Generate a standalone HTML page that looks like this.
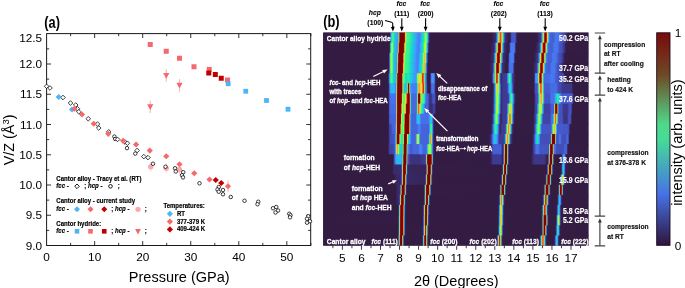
<!DOCTYPE html>
<html><head><meta charset="utf-8"><title>fig</title>
<style>html,body{margin:0;padding:0;background:#fff}svg{display:block}text{font-family:"Liberation Sans",sans-serif}</style>
</head><body>
<svg width="685" height="288" viewBox="0 0 685 288">
<defs><linearGradient id="r0" gradientUnits="userSpaceOnUse" x1="323.2" x2="588.4" y1="0" y2="0"><stop offset="0.0000" stop-color="#331b41"/><stop offset="0.2508" stop-color="#331b41"/><stop offset="0.2526" stop-color="#3a2e74"/><stop offset="0.2545" stop-color="#4773eb"/><stop offset="0.2564" stop-color="#25c0e7"/><stop offset="0.2583" stop-color="#1ae4b6"/><stop offset="0.2602" stop-color="#32f298"/><stop offset="0.2621" stop-color="#43f787"/><stop offset="0.2640" stop-color="#3cf58e"/><stop offset="0.2658" stop-color="#25eca7"/><stop offset="0.2677" stop-color="#18ddc2"/><stop offset="0.2696" stop-color="#1ecbda"/><stop offset="0.2715" stop-color="#27bee9"/><stop offset="0.2809" stop-color="#3ba0fd"/><stop offset="0.2828" stop-color="#4196ff"/><stop offset="0.2847" stop-color="#59fb73"/><stop offset="0.2866" stop-color="#fd8d27"/><stop offset="0.2885" stop-color="#950d01"/><stop offset="0.2903" stop-color="#7a0403"/><stop offset="0.3054" stop-color="#7a0403"/><stop offset="0.3073" stop-color="#a11201"/><stop offset="0.3092" stop-color="#fea431"/><stop offset="0.3111" stop-color="#cdec34"/><stop offset="0.3130" stop-color="#8fff49"/><stop offset="0.3149" stop-color="#59fb73"/><stop offset="0.3167" stop-color="#43f787"/><stop offset="0.3224" stop-color="#38f491"/><stop offset="0.3281" stop-color="#2ff19b"/><stop offset="0.3318" stop-color="#1ce6b4"/><stop offset="0.3375" stop-color="#1ad4d0"/><stop offset="0.3488" stop-color="#37a8fa"/><stop offset="0.3563" stop-color="#458afc"/><stop offset="0.3620" stop-color="#4680f6"/><stop offset="0.3639" stop-color="#4680f6"/><stop offset="0.3676" stop-color="#3e9bfe"/><stop offset="0.3714" stop-color="#23c3e4"/><stop offset="0.3752" stop-color="#18d7ca"/><stop offset="0.3790" stop-color="#1de7b2"/><stop offset="0.3808" stop-color="#2ff19b"/><stop offset="0.3846" stop-color="#75fe5c"/><stop offset="0.3865" stop-color="#88ff4e"/><stop offset="0.3884" stop-color="#84ff51"/><stop offset="0.3903" stop-color="#61fc6c"/><stop offset="0.3922" stop-color="#1fe9af"/><stop offset="0.3940" stop-color="#2cb7f0"/><stop offset="0.3959" stop-color="#4680f6"/><stop offset="0.3978" stop-color="#4451bf"/><stop offset="0.3997" stop-color="#3a2f75"/><stop offset="0.4016" stop-color="#341f4b"/><stop offset="0.4035" stop-color="#331b41"/><stop offset="0.6354" stop-color="#331c42"/><stop offset="0.6448" stop-color="#372761"/><stop offset="0.6505" stop-color="#3a2f76"/><stop offset="0.6523" stop-color="#4040a2"/><stop offset="0.6542" stop-color="#4661d6"/><stop offset="0.6561" stop-color="#448ffe"/><stop offset="0.6580" stop-color="#1fc9dd"/><stop offset="0.6599" stop-color="#3ff68a"/><stop offset="0.6618" stop-color="#b4f836"/><stop offset="0.6637" stop-color="#f6c33a"/><stop offset="0.6655" stop-color="#fb7e21"/><stop offset="0.6674" stop-color="#ec530f"/><stop offset="0.6693" stop-color="#eb500e"/><stop offset="0.6712" stop-color="#f8721c"/><stop offset="0.6731" stop-color="#fbb838"/><stop offset="0.6750" stop-color="#c3f134"/><stop offset="0.6768" stop-color="#59fb73"/><stop offset="0.6787" stop-color="#19d5cd"/><stop offset="0.6806" stop-color="#4099ff"/><stop offset="0.6825" stop-color="#4669e0"/><stop offset="0.6844" stop-color="#4146ac"/><stop offset="0.6863" stop-color="#3b317c"/><stop offset="0.6995" stop-color="#341d47"/><stop offset="0.7032" stop-color="#341d47"/><stop offset="0.7051" stop-color="#362356"/><stop offset="0.7070" stop-color="#3a2f77"/><stop offset="0.7089" stop-color="#4143a7"/><stop offset="0.7108" stop-color="#4456c7"/><stop offset="0.7221" stop-color="#4559cb"/><stop offset="0.7240" stop-color="#4456c7"/><stop offset="0.7259" stop-color="#4146ac"/><stop offset="0.7296" stop-color="#36255b"/><stop offset="0.7315" stop-color="#341e49"/><stop offset="0.7372" stop-color="#331b41"/><stop offset="0.8051" stop-color="#331c43"/><stop offset="0.8126" stop-color="#382863"/><stop offset="0.8183" stop-color="#3c3483"/><stop offset="0.8201" stop-color="#3d378c"/><stop offset="0.8220" stop-color="#424bb5"/><stop offset="0.8239" stop-color="#4776ee"/><stop offset="0.8258" stop-color="#33adf7"/><stop offset="0.8277" stop-color="#20eaac"/><stop offset="0.8296" stop-color="#a1fd3d"/><stop offset="0.8314" stop-color="#f9bc39"/><stop offset="0.8333" stop-color="#e84b0c"/><stop offset="0.8352" stop-color="#a11201"/><stop offset="0.8371" stop-color="#7a0403"/><stop offset="0.8390" stop-color="#7a0403"/><stop offset="0.8409" stop-color="#920b01"/><stop offset="0.8428" stop-color="#dc3b07"/><stop offset="0.8446" stop-color="#fea732"/><stop offset="0.8465" stop-color="#b9f635"/><stop offset="0.8484" stop-color="#32f298"/><stop offset="0.8503" stop-color="#28bceb"/><stop offset="0.8522" stop-color="#467df4"/><stop offset="0.8541" stop-color="#4669e0"/><stop offset="0.8616" stop-color="#455ed3"/><stop offset="0.8692" stop-color="#455ed3"/><stop offset="0.8748" stop-color="#4776ee"/><stop offset="0.8880" stop-color="#4778f0"/><stop offset="0.8937" stop-color="#4661d6"/><stop offset="0.8974" stop-color="#4456c7"/><stop offset="0.9050" stop-color="#434eba"/><stop offset="0.9087" stop-color="#4146ac"/><stop offset="0.9163" stop-color="#3a2d72"/><stop offset="0.9201" stop-color="#35204e"/><stop offset="0.9238" stop-color="#331b41"/><stop offset="0.9992" stop-color="#331b41"/></linearGradient>
<linearGradient id="r1" gradientUnits="userSpaceOnUse" x1="323.2" x2="588.4" y1="0" y2="0"><stop offset="0.0000" stop-color="#331b41"/><stop offset="0.2489" stop-color="#331b41"/><stop offset="0.2508" stop-color="#3a2e74"/><stop offset="0.2526" stop-color="#4776ee"/><stop offset="0.2545" stop-color="#1bd0d5"/><stop offset="0.2564" stop-color="#4ef97d"/><stop offset="0.2583" stop-color="#8fff49"/><stop offset="0.2602" stop-color="#9ffd3f"/><stop offset="0.2621" stop-color="#8fff49"/><stop offset="0.2640" stop-color="#46f884"/><stop offset="0.2658" stop-color="#19e2bb"/><stop offset="0.2677" stop-color="#1ecbda"/><stop offset="0.2696" stop-color="#27bee9"/><stop offset="0.2790" stop-color="#3d9efe"/><stop offset="0.2809" stop-color="#37a8fa"/><stop offset="0.2828" stop-color="#96fe44"/><stop offset="0.2847" stop-color="#f26014"/><stop offset="0.2866" stop-color="#850702"/><stop offset="0.2885" stop-color="#7a0403"/><stop offset="0.3035" stop-color="#7e0502"/><stop offset="0.3054" stop-color="#ea4e0d"/><stop offset="0.3073" stop-color="#e5d938"/><stop offset="0.3092" stop-color="#a9fb39"/><stop offset="0.3111" stop-color="#6dfe62"/><stop offset="0.3130" stop-color="#46f884"/><stop offset="0.3149" stop-color="#3cf58e"/><stop offset="0.3243" stop-color="#32f298"/><stop offset="0.3299" stop-color="#19e3b9"/><stop offset="0.3375" stop-color="#1ecbda"/><stop offset="0.3450" stop-color="#33adf7"/><stop offset="0.3526" stop-color="#448ffe"/><stop offset="0.3582" stop-color="#4680f6"/><stop offset="0.3620" stop-color="#4682f8"/><stop offset="0.3639" stop-color="#458cfd"/><stop offset="0.3658" stop-color="#3ba0fd"/><stop offset="0.3695" stop-color="#20c7df"/><stop offset="0.3752" stop-color="#18e0bd"/><stop offset="0.3771" stop-color="#1fe9af"/><stop offset="0.3790" stop-color="#38f491"/><stop offset="0.3808" stop-color="#75fe5c"/><stop offset="0.3827" stop-color="#acfb38"/><stop offset="0.3846" stop-color="#c1f334"/><stop offset="0.3865" stop-color="#b9f635"/><stop offset="0.3884" stop-color="#84ff51"/><stop offset="0.3903" stop-color="#1de7b2"/><stop offset="0.3922" stop-color="#33adf7"/><stop offset="0.3940" stop-color="#4776ee"/><stop offset="0.3959" stop-color="#4249b1"/><stop offset="0.3978" stop-color="#382967"/><stop offset="0.3997" stop-color="#341d46"/><stop offset="0.4110" stop-color="#331b41"/><stop offset="0.6316" stop-color="#331c43"/><stop offset="0.6410" stop-color="#382863"/><stop offset="0.6448" stop-color="#392d70"/><stop offset="0.6467" stop-color="#3e398f"/><stop offset="0.6486" stop-color="#4456c7"/><stop offset="0.6505" stop-color="#4685fa"/><stop offset="0.6523" stop-color="#22c5e2"/><stop offset="0.6542" stop-color="#46f884"/><stop offset="0.6561" stop-color="#cdec34"/><stop offset="0.6580" stop-color="#fd8a26"/><stop offset="0.6599" stop-color="#c32503"/><stop offset="0.6618" stop-color="#7a0403"/><stop offset="0.6674" stop-color="#7a0403"/><stop offset="0.6693" stop-color="#d43305"/><stop offset="0.6712" stop-color="#fea431"/><stop offset="0.6731" stop-color="#b7f735"/><stop offset="0.6750" stop-color="#2ff19b"/><stop offset="0.6768" stop-color="#2cb7f0"/><stop offset="0.6787" stop-color="#477bf2"/><stop offset="0.6806" stop-color="#434eba"/><stop offset="0.6825" stop-color="#3c3586"/><stop offset="0.6844" stop-color="#392c6f"/><stop offset="0.6957" stop-color="#341d46"/><stop offset="0.6995" stop-color="#341d46"/><stop offset="0.7014" stop-color="#362459"/><stop offset="0.7032" stop-color="#3d378b"/><stop offset="0.7051" stop-color="#455ccf"/><stop offset="0.7070" stop-color="#4778f0"/><stop offset="0.7202" stop-color="#477bf2"/><stop offset="0.7221" stop-color="#4669e0"/><stop offset="0.7240" stop-color="#4143a7"/><stop offset="0.7259" stop-color="#382a68"/><stop offset="0.7278" stop-color="#341f4b"/><stop offset="0.7315" stop-color="#331b41"/><stop offset="0.7994" stop-color="#331b42"/><stop offset="0.8069" stop-color="#372761"/><stop offset="0.8126" stop-color="#3c3382"/><stop offset="0.8145" stop-color="#3d378a"/><stop offset="0.8164" stop-color="#4146ac"/><stop offset="0.8183" stop-color="#476ee6"/><stop offset="0.8201" stop-color="#3aa3fc"/><stop offset="0.8220" stop-color="#19e3b9"/><stop offset="0.8239" stop-color="#92ff47"/><stop offset="0.8258" stop-color="#f4c73a"/><stop offset="0.8277" stop-color="#ed5510"/><stop offset="0.8296" stop-color="#a41301"/><stop offset="0.8314" stop-color="#7a0403"/><stop offset="0.8352" stop-color="#7a0403"/><stop offset="0.8371" stop-color="#c52603"/><stop offset="0.8390" stop-color="#fc8423"/><stop offset="0.8409" stop-color="#d4e735"/><stop offset="0.8428" stop-color="#55fa76"/><stop offset="0.8446" stop-color="#1ecbda"/><stop offset="0.8465" stop-color="#458cfd"/><stop offset="0.8484" stop-color="#4669e0"/><stop offset="0.8578" stop-color="#455ed3"/><stop offset="0.8654" stop-color="#4661d6"/><stop offset="0.8692" stop-color="#4773eb"/><stop offset="0.8767" stop-color="#4778f0"/><stop offset="0.8842" stop-color="#4776ee"/><stop offset="0.8899" stop-color="#4559cb"/><stop offset="0.9012" stop-color="#424bb5"/><stop offset="0.9087" stop-color="#3c3587"/><stop offset="0.9144" stop-color="#352151"/><stop offset="0.9163" stop-color="#341c45"/><stop offset="0.9992" stop-color="#331b41"/></linearGradient>
<linearGradient id="r2" gradientUnits="userSpaceOnUse" x1="323.2" x2="588.4" y1="0" y2="0"><stop offset="0.0000" stop-color="#331b41"/><stop offset="0.2470" stop-color="#331b41"/><stop offset="0.2489" stop-color="#3c3381"/><stop offset="0.2508" stop-color="#4685fa"/><stop offset="0.2526" stop-color="#18e0bd"/><stop offset="0.2545" stop-color="#71fe5f"/><stop offset="0.2564" stop-color="#a4fc3c"/><stop offset="0.2583" stop-color="#acfb38"/><stop offset="0.2602" stop-color="#8bff4b"/><stop offset="0.2621" stop-color="#3cf58e"/><stop offset="0.2640" stop-color="#18ddc2"/><stop offset="0.2658" stop-color="#1fc9dd"/><stop offset="0.2677" stop-color="#28bceb"/><stop offset="0.2771" stop-color="#4099ff"/><stop offset="0.2790" stop-color="#23c3e4"/><stop offset="0.2809" stop-color="#bef434"/><stop offset="0.2828" stop-color="#df3f08"/><stop offset="0.2847" stop-color="#7a0403"/><stop offset="0.2998" stop-color="#7a0403"/><stop offset="0.3017" stop-color="#b91e02"/><stop offset="0.3035" stop-color="#f7c13a"/><stop offset="0.3054" stop-color="#c1f334"/><stop offset="0.3073" stop-color="#84ff51"/><stop offset="0.3092" stop-color="#52fa7a"/><stop offset="0.3111" stop-color="#3ff68a"/><stop offset="0.3224" stop-color="#32f298"/><stop offset="0.3262" stop-color="#1de7b2"/><stop offset="0.3318" stop-color="#19d5cd"/><stop offset="0.3413" stop-color="#2fb2f4"/><stop offset="0.3488" stop-color="#4294ff"/><stop offset="0.3544" stop-color="#4682f8"/><stop offset="0.3582" stop-color="#4680f6"/><stop offset="0.3601" stop-color="#4687fb"/><stop offset="0.3620" stop-color="#4099ff"/><stop offset="0.3639" stop-color="#33adf7"/><stop offset="0.3676" stop-color="#1ccdd8"/><stop offset="0.3733" stop-color="#1ae4b6"/><stop offset="0.3752" stop-color="#2aefa1"/><stop offset="0.3771" stop-color="#69fd66"/><stop offset="0.3790" stop-color="#c8ef34"/><stop offset="0.3808" stop-color="#f7c13a"/><stop offset="0.3827" stop-color="#fcb136"/><stop offset="0.3846" stop-color="#ebd339"/><stop offset="0.3865" stop-color="#7dff56"/><stop offset="0.3884" stop-color="#1ccdd8"/><stop offset="0.3903" stop-color="#458afc"/><stop offset="0.3922" stop-color="#455ccf"/><stop offset="0.3940" stop-color="#3c3484"/><stop offset="0.3959" stop-color="#35204f"/><stop offset="0.3978" stop-color="#331b41"/><stop offset="0.6278" stop-color="#331c43"/><stop offset="0.6373" stop-color="#382863"/><stop offset="0.6410" stop-color="#392d70"/><stop offset="0.6429" stop-color="#3e398f"/><stop offset="0.6448" stop-color="#4456c7"/><stop offset="0.6467" stop-color="#4685fa"/><stop offset="0.6486" stop-color="#22c5e2"/><stop offset="0.6505" stop-color="#46f884"/><stop offset="0.6523" stop-color="#cdec34"/><stop offset="0.6542" stop-color="#fd8a26"/><stop offset="0.6561" stop-color="#c32503"/><stop offset="0.6580" stop-color="#7a0403"/><stop offset="0.6637" stop-color="#7a0403"/><stop offset="0.6655" stop-color="#d43305"/><stop offset="0.6674" stop-color="#fea431"/><stop offset="0.6693" stop-color="#b7f735"/><stop offset="0.6712" stop-color="#2ff19b"/><stop offset="0.6731" stop-color="#2cb7f0"/><stop offset="0.6750" stop-color="#477bf2"/><stop offset="0.6768" stop-color="#434eba"/><stop offset="0.6787" stop-color="#3c3586"/><stop offset="0.6806" stop-color="#392c6f"/><stop offset="0.6919" stop-color="#341d46"/><stop offset="0.6957" stop-color="#341c45"/><stop offset="0.6976" stop-color="#362254"/><stop offset="0.6995" stop-color="#3c3482"/><stop offset="0.7014" stop-color="#4456c7"/><stop offset="0.7032" stop-color="#477bf2"/><stop offset="0.7108" stop-color="#4680f6"/><stop offset="0.7164" stop-color="#4680f6"/><stop offset="0.7183" stop-color="#476ee6"/><stop offset="0.7202" stop-color="#4146ac"/><stop offset="0.7221" stop-color="#392b6b"/><stop offset="0.7240" stop-color="#341f4c"/><stop offset="0.7278" stop-color="#331b41"/><stop offset="0.7937" stop-color="#331b41"/><stop offset="0.8013" stop-color="#37265f"/><stop offset="0.8051" stop-color="#3b3079"/><stop offset="0.8088" stop-color="#3d3688"/><stop offset="0.8107" stop-color="#4040a2"/><stop offset="0.8126" stop-color="#4664da"/><stop offset="0.8145" stop-color="#4196ff"/><stop offset="0.8164" stop-color="#18d9c8"/><stop offset="0.8183" stop-color="#75fe5c"/><stop offset="0.8201" stop-color="#e5d938"/><stop offset="0.8220" stop-color="#f66c19"/><stop offset="0.8239" stop-color="#b41b01"/><stop offset="0.8258" stop-color="#7a0403"/><stop offset="0.8296" stop-color="#7a0403"/><stop offset="0.8314" stop-color="#b41b01"/><stop offset="0.8333" stop-color="#f66c19"/><stop offset="0.8352" stop-color="#e5d938"/><stop offset="0.8371" stop-color="#75fe5c"/><stop offset="0.8390" stop-color="#18d9c8"/><stop offset="0.8409" stop-color="#4196ff"/><stop offset="0.8428" stop-color="#4669e0"/><stop offset="0.8522" stop-color="#455ed3"/><stop offset="0.8597" stop-color="#4661d6"/><stop offset="0.8654" stop-color="#4778f0"/><stop offset="0.8786" stop-color="#4776ee"/><stop offset="0.8861" stop-color="#4456c7"/><stop offset="0.8956" stop-color="#424bb5"/><stop offset="0.9031" stop-color="#3d378a"/><stop offset="0.9106" stop-color="#341d46"/><stop offset="0.9219" stop-color="#331b41"/><stop offset="0.9992" stop-color="#331b41"/></linearGradient>
<linearGradient id="r3" gradientUnits="userSpaceOnUse" x1="323.2" x2="588.4" y1="0" y2="0"><stop offset="0.0000" stop-color="#331b41"/><stop offset="0.2470" stop-color="#331b41"/><stop offset="0.2489" stop-color="#3c3381"/><stop offset="0.2508" stop-color="#4685fa"/><stop offset="0.2526" stop-color="#18e0bd"/><stop offset="0.2545" stop-color="#71fe5f"/><stop offset="0.2564" stop-color="#a4fc3c"/><stop offset="0.2583" stop-color="#acfb38"/><stop offset="0.2602" stop-color="#8bff4b"/><stop offset="0.2621" stop-color="#3cf58e"/><stop offset="0.2640" stop-color="#18ddc2"/><stop offset="0.2658" stop-color="#20c7df"/><stop offset="0.2696" stop-color="#2eb4f2"/><stop offset="0.2771" stop-color="#4099ff"/><stop offset="0.2790" stop-color="#3ff68a"/><stop offset="0.2809" stop-color="#fea431"/><stop offset="0.2828" stop-color="#a11201"/><stop offset="0.2847" stop-color="#7a0403"/><stop offset="0.2979" stop-color="#7a0403"/><stop offset="0.2998" stop-color="#950d01"/><stop offset="0.3017" stop-color="#fd8d27"/><stop offset="0.3035" stop-color="#d4e735"/><stop offset="0.3054" stop-color="#96fe44"/><stop offset="0.3073" stop-color="#5dfc6f"/><stop offset="0.3092" stop-color="#43f787"/><stop offset="0.3149" stop-color="#38f491"/><stop offset="0.3205" stop-color="#32f298"/><stop offset="0.3262" stop-color="#19e3b9"/><stop offset="0.3337" stop-color="#1ecbda"/><stop offset="0.3413" stop-color="#33adf7"/><stop offset="0.3488" stop-color="#448ffe"/><stop offset="0.3544" stop-color="#4680f6"/><stop offset="0.3582" stop-color="#4687fb"/><stop offset="0.3601" stop-color="#4099ff"/><stop offset="0.3620" stop-color="#33adf7"/><stop offset="0.3658" stop-color="#1ccdd8"/><stop offset="0.3714" stop-color="#1ae4b6"/><stop offset="0.3733" stop-color="#2aefa1"/><stop offset="0.3752" stop-color="#6dfe62"/><stop offset="0.3771" stop-color="#d7e535"/><stop offset="0.3790" stop-color="#fdac34"/><stop offset="0.3808" stop-color="#fe962b"/><stop offset="0.3827" stop-color="#f7c13a"/><stop offset="0.3846" stop-color="#8fff49"/><stop offset="0.3865" stop-color="#1bd0d5"/><stop offset="0.3884" stop-color="#458afc"/><stop offset="0.3903" stop-color="#455ccf"/><stop offset="0.3922" stop-color="#3c3484"/><stop offset="0.3940" stop-color="#35204f"/><stop offset="0.3959" stop-color="#331b41"/><stop offset="0.6241" stop-color="#331b42"/><stop offset="0.6335" stop-color="#37265f"/><stop offset="0.6373" stop-color="#392c6e"/><stop offset="0.6391" stop-color="#3b317c"/><stop offset="0.6410" stop-color="#4146ac"/><stop offset="0.6429" stop-color="#476ee6"/><stop offset="0.6448" stop-color="#38a5fb"/><stop offset="0.6467" stop-color="#1ce6b4"/><stop offset="0.6486" stop-color="#99fe42"/><stop offset="0.6505" stop-color="#f7c13a"/><stop offset="0.6523" stop-color="#e84b0c"/><stop offset="0.6542" stop-color="#950d01"/><stop offset="0.6561" stop-color="#7a0403"/><stop offset="0.6599" stop-color="#7a0403"/><stop offset="0.6618" stop-color="#bc2002"/><stop offset="0.6637" stop-color="#fa7b1f"/><stop offset="0.6655" stop-color="#dbe236"/><stop offset="0.6674" stop-color="#5dfc6f"/><stop offset="0.6693" stop-color="#1bd0d5"/><stop offset="0.6712" stop-color="#458cfd"/><stop offset="0.6731" stop-color="#455ccf"/><stop offset="0.6750" stop-color="#3f3c99"/><stop offset="0.6768" stop-color="#3a2d72"/><stop offset="0.6900" stop-color="#331c44"/><stop offset="0.6938" stop-color="#331c43"/><stop offset="0.6957" stop-color="#35204e"/><stop offset="0.6976" stop-color="#392c6f"/><stop offset="0.6995" stop-color="#4249b1"/><stop offset="0.7014" stop-color="#4669e0"/><stop offset="0.7032" stop-color="#4773eb"/><stop offset="0.7146" stop-color="#4773eb"/><stop offset="0.7164" stop-color="#455ed3"/><stop offset="0.7183" stop-color="#3e3a94"/><stop offset="0.7202" stop-color="#37265e"/><stop offset="0.7221" stop-color="#341e48"/><stop offset="0.7278" stop-color="#331b41"/><stop offset="0.7900" stop-color="#331c43"/><stop offset="0.7975" stop-color="#382863"/><stop offset="0.8032" stop-color="#3c3483"/><stop offset="0.8051" stop-color="#3d378c"/><stop offset="0.8069" stop-color="#424bb5"/><stop offset="0.8088" stop-color="#4776ee"/><stop offset="0.8107" stop-color="#2fb2f4"/><stop offset="0.8126" stop-color="#25eca7"/><stop offset="0.8145" stop-color="#a9fb39"/><stop offset="0.8164" stop-color="#fcb336"/><stop offset="0.8183" stop-color="#e2430a"/><stop offset="0.8201" stop-color="#920b01"/><stop offset="0.8220" stop-color="#7a0403"/><stop offset="0.8258" stop-color="#810602"/><stop offset="0.8277" stop-color="#d43305"/><stop offset="0.8296" stop-color="#fe9e2f"/><stop offset="0.8314" stop-color="#bef434"/><stop offset="0.8333" stop-color="#38f491"/><stop offset="0.8352" stop-color="#27bee9"/><stop offset="0.8371" stop-color="#4680f6"/><stop offset="0.8390" stop-color="#4669e0"/><stop offset="0.8465" stop-color="#455ed3"/><stop offset="0.8541" stop-color="#455ed3"/><stop offset="0.8597" stop-color="#4776ee"/><stop offset="0.8729" stop-color="#4778f0"/><stop offset="0.8786" stop-color="#4661d6"/><stop offset="0.8824" stop-color="#4456c7"/><stop offset="0.8899" stop-color="#434eba"/><stop offset="0.8937" stop-color="#4146ac"/><stop offset="0.9012" stop-color="#3a2d72"/><stop offset="0.9050" stop-color="#35204e"/><stop offset="0.9087" stop-color="#331b41"/><stop offset="0.9992" stop-color="#331b41"/></linearGradient>
<linearGradient id="r4" gradientUnits="userSpaceOnUse" x1="323.2" x2="588.4" y1="0" y2="0"><stop offset="0.0000" stop-color="#331b41"/><stop offset="0.2432" stop-color="#331b41"/><stop offset="0.2451" stop-color="#35204f"/><stop offset="0.2470" stop-color="#3e398f"/><stop offset="0.2489" stop-color="#476ee6"/><stop offset="0.2508" stop-color="#37a8fa"/><stop offset="0.2526" stop-color="#18dbc5"/><stop offset="0.2545" stop-color="#35f394"/><stop offset="0.2564" stop-color="#4ef97d"/><stop offset="0.2583" stop-color="#52fa7a"/><stop offset="0.2602" stop-color="#43f787"/><stop offset="0.2621" stop-color="#25eca7"/><stop offset="0.2640" stop-color="#18dbc5"/><stop offset="0.2658" stop-color="#1ccdd8"/><stop offset="0.2696" stop-color="#23c3e4"/><stop offset="0.2753" stop-color="#35abf8"/><stop offset="0.2771" stop-color="#52fa7a"/><stop offset="0.2790" stop-color="#f05b12"/><stop offset="0.2809" stop-color="#7a0403"/><stop offset="0.2960" stop-color="#7a0403"/><stop offset="0.2979" stop-color="#b41b01"/><stop offset="0.2998" stop-color="#d7e535"/><stop offset="0.3017" stop-color="#75fe5c"/><stop offset="0.3035" stop-color="#46f884"/><stop offset="0.3073" stop-color="#3ff68a"/><stop offset="0.3111" stop-color="#19e2bb"/><stop offset="0.3130" stop-color="#18d7ca"/><stop offset="0.3149" stop-color="#18d9c8"/><stop offset="0.3186" stop-color="#1fe9af"/><stop offset="0.3243" stop-color="#1fe9af"/><stop offset="0.3262" stop-color="#19e3b9"/><stop offset="0.3299" stop-color="#1fc9dd"/><stop offset="0.3356" stop-color="#22c5e2"/><stop offset="0.3394" stop-color="#38a5fb"/><stop offset="0.3413" stop-color="#3e9bfe"/><stop offset="0.3488" stop-color="#3e9bfe"/><stop offset="0.3507" stop-color="#3aa3fc"/><stop offset="0.3526" stop-color="#23c3e4"/><stop offset="0.3544" stop-color="#2ff19b"/><stop offset="0.3563" stop-color="#affa37"/><stop offset="0.3582" stop-color="#e7d739"/><stop offset="0.3601" stop-color="#efcd3a"/><stop offset="0.3620" stop-color="#e5d938"/><stop offset="0.3639" stop-color="#c6f034"/><stop offset="0.3658" stop-color="#a9fb39"/><stop offset="0.3676" stop-color="#a4fc3c"/><stop offset="0.3695" stop-color="#bef434"/><stop offset="0.3714" stop-color="#fbb637"/><stop offset="0.3733" stop-color="#e7490c"/><stop offset="0.3752" stop-color="#ce2d04"/><stop offset="0.3771" stop-color="#d63506"/><stop offset="0.3790" stop-color="#fb7e21"/><stop offset="0.3808" stop-color="#b9f635"/><stop offset="0.3827" stop-color="#19e2bb"/><stop offset="0.3846" stop-color="#3ba0fd"/><stop offset="0.3865" stop-color="#4680f6"/><stop offset="0.3884" stop-color="#476ee6"/><stop offset="0.3903" stop-color="#4249b1"/><stop offset="0.3922" stop-color="#37265f"/><stop offset="0.3940" stop-color="#331b41"/><stop offset="0.4016" stop-color="#331b41"/><stop offset="0.4035" stop-color="#36255a"/><stop offset="0.4054" stop-color="#4146ac"/><stop offset="0.4072" stop-color="#4771e9"/><stop offset="0.4091" stop-color="#458afc"/><stop offset="0.4129" stop-color="#3e9bfe"/><stop offset="0.4167" stop-color="#4294ff"/><stop offset="0.4186" stop-color="#4680f6"/><stop offset="0.4204" stop-color="#455ccf"/><stop offset="0.4223" stop-color="#3b317a"/><stop offset="0.4242" stop-color="#341e48"/><stop offset="0.4280" stop-color="#331b41"/><stop offset="0.6316" stop-color="#331b42"/><stop offset="0.6335" stop-color="#341d45"/><stop offset="0.6354" stop-color="#352152"/><stop offset="0.6373" stop-color="#3a2e74"/><stop offset="0.6391" stop-color="#424bb5"/><stop offset="0.6410" stop-color="#477bf2"/><stop offset="0.6429" stop-color="#37a8fa"/><stop offset="0.6448" stop-color="#28bceb"/><stop offset="0.6467" stop-color="#20eaac"/><stop offset="0.6486" stop-color="#acfb38"/><stop offset="0.6505" stop-color="#fcb336"/><stop offset="0.6523" stop-color="#ea4e0d"/><stop offset="0.6542" stop-color="#c82803"/><stop offset="0.6561" stop-color="#cc2b04"/><stop offset="0.6580" stop-color="#f15d13"/><stop offset="0.6599" stop-color="#f5c53a"/><stop offset="0.6618" stop-color="#92ff47"/><stop offset="0.6637" stop-color="#18dec0"/><stop offset="0.6655" stop-color="#4196ff"/><stop offset="0.6674" stop-color="#455ed3"/><stop offset="0.6693" stop-color="#3e3a93"/><stop offset="0.6712" stop-color="#382966"/><stop offset="0.6731" stop-color="#382965"/><stop offset="0.6768" stop-color="#3e3991"/><stop offset="0.6900" stop-color="#3e3b95"/><stop offset="0.6919" stop-color="#3f3e9c"/><stop offset="0.6938" stop-color="#4661d6"/><stop offset="0.6957" stop-color="#458cfd"/><stop offset="0.6976" stop-color="#25c0e7"/><stop offset="0.6995" stop-color="#1ae4b6"/><stop offset="0.7014" stop-color="#38f491"/><stop offset="0.7032" stop-color="#46f884"/><stop offset="0.7051" stop-color="#2cf09e"/><stop offset="0.7070" stop-color="#18d9c8"/><stop offset="0.7089" stop-color="#35abf8"/><stop offset="0.7108" stop-color="#477bf2"/><stop offset="0.7127" stop-color="#4451bf"/><stop offset="0.7146" stop-color="#3e3b95"/><stop offset="0.7164" stop-color="#3e3a93"/><stop offset="0.7183" stop-color="#3c3482"/><stop offset="0.7221" stop-color="#362255"/><stop offset="0.7259" stop-color="#331c43"/><stop offset="0.7937" stop-color="#331b42"/><stop offset="0.7956" stop-color="#36245a"/><stop offset="0.7975" stop-color="#4040a2"/><stop offset="0.7994" stop-color="#476ee6"/><stop offset="0.8013" stop-color="#4391fe"/><stop offset="0.8032" stop-color="#3d9efe"/><stop offset="0.8051" stop-color="#4099ff"/><stop offset="0.8069" stop-color="#4680f6"/><stop offset="0.8088" stop-color="#22c5e2"/><stop offset="0.8107" stop-color="#55fa76"/><stop offset="0.8126" stop-color="#dde037"/><stop offset="0.8145" stop-color="#f66c19"/><stop offset="0.8164" stop-color="#af1801"/><stop offset="0.8183" stop-color="#7a0403"/><stop offset="0.8201" stop-color="#7a0403"/><stop offset="0.8220" stop-color="#9e1001"/><stop offset="0.8239" stop-color="#ec530f"/><stop offset="0.8258" stop-color="#efcd3a"/><stop offset="0.8277" stop-color="#79fe59"/><stop offset="0.8296" stop-color="#1ad4d0"/><stop offset="0.8314" stop-color="#458cfd"/><stop offset="0.8333" stop-color="#4669e0"/><stop offset="0.8541" stop-color="#466be3"/><stop offset="0.8597" stop-color="#4778f0"/><stop offset="0.8710" stop-color="#4776ee"/><stop offset="0.8748" stop-color="#4666dd"/><stop offset="0.8786" stop-color="#455ccf"/><stop offset="0.8861" stop-color="#4456c7"/><stop offset="0.8937" stop-color="#4143a7"/><stop offset="0.8974" stop-color="#424bb5"/><stop offset="0.9050" stop-color="#4249b1"/><stop offset="0.9069" stop-color="#3f3d9b"/><stop offset="0.9087" stop-color="#392c6d"/><stop offset="0.9106" stop-color="#341f4a"/><stop offset="0.9125" stop-color="#331b41"/><stop offset="0.9992" stop-color="#331b41"/></linearGradient>
<linearGradient id="r5" gradientUnits="userSpaceOnUse" x1="323.2" x2="588.4" y1="0" y2="0"><stop offset="0.0000" stop-color="#331b41"/><stop offset="0.2432" stop-color="#331b41"/><stop offset="0.2451" stop-color="#341d47"/><stop offset="0.2470" stop-color="#392c6d"/><stop offset="0.2489" stop-color="#434eba"/><stop offset="0.2508" stop-color="#4773eb"/><stop offset="0.2526" stop-color="#4294ff"/><stop offset="0.2545" stop-color="#33adf7"/><stop offset="0.2564" stop-color="#2ab9ee"/><stop offset="0.2658" stop-color="#28bceb"/><stop offset="0.2677" stop-color="#2eb4f2"/><stop offset="0.2696" stop-color="#3aa3fc"/><stop offset="0.2734" stop-color="#4687fb"/><stop offset="0.2753" stop-color="#448ffe"/><stop offset="0.2771" stop-color="#99fe42"/><stop offset="0.2790" stop-color="#d43305"/><stop offset="0.2809" stop-color="#7a0403"/><stop offset="0.2960" stop-color="#7a0403"/><stop offset="0.2979" stop-color="#b41b01"/><stop offset="0.2998" stop-color="#d9e436"/><stop offset="0.3017" stop-color="#69fd66"/><stop offset="0.3035" stop-color="#1de7b2"/><stop offset="0.3054" stop-color="#1ad4d0"/><stop offset="0.3073" stop-color="#1fc9dd"/><stop offset="0.3130" stop-color="#20c7df"/><stop offset="0.3149" stop-color="#1ecbda"/><stop offset="0.3167" stop-color="#18e0bd"/><stop offset="0.3186" stop-color="#fdae35"/><stop offset="0.3205" stop-color="#8b0902"/><stop offset="0.3224" stop-color="#7a0403"/><stop offset="0.3243" stop-color="#c52603"/><stop offset="0.3262" stop-color="#b4f836"/><stop offset="0.3281" stop-color="#20c7df"/><stop offset="0.3299" stop-color="#4196ff"/><stop offset="0.3318" stop-color="#4682f8"/><stop offset="0.3394" stop-color="#467df4"/><stop offset="0.3507" stop-color="#467df4"/><stop offset="0.3526" stop-color="#4687fb"/><stop offset="0.3544" stop-color="#31aff5"/><stop offset="0.3563" stop-color="#4ef97d"/><stop offset="0.3582" stop-color="#eecf3a"/><stop offset="0.3601" stop-color="#fe962b"/><stop offset="0.3620" stop-color="#fe962b"/><stop offset="0.3639" stop-color="#fe9e2f"/><stop offset="0.3658" stop-color="#faba39"/><stop offset="0.3676" stop-color="#ebd339"/><stop offset="0.3695" stop-color="#d9e436"/><stop offset="0.3714" stop-color="#d7e535"/><stop offset="0.3733" stop-color="#fbb838"/><stop offset="0.3752" stop-color="#ed5510"/><stop offset="0.3771" stop-color="#d23105"/><stop offset="0.3790" stop-color="#d83706"/><stop offset="0.3808" stop-color="#fd8d27"/><stop offset="0.3827" stop-color="#8fff49"/><stop offset="0.3846" stop-color="#2cb7f0"/><stop offset="0.3865" stop-color="#4773eb"/><stop offset="0.3903" stop-color="#4559cb"/><stop offset="0.3922" stop-color="#3e388f"/><stop offset="0.3940" stop-color="#352152"/><stop offset="0.3959" stop-color="#331b41"/><stop offset="0.4016" stop-color="#331b41"/><stop offset="0.4035" stop-color="#352253"/><stop offset="0.4054" stop-color="#3e398f"/><stop offset="0.4072" stop-color="#4559cb"/><stop offset="0.4091" stop-color="#4669e0"/><stop offset="0.4129" stop-color="#4773eb"/><stop offset="0.4167" stop-color="#4771e9"/><stop offset="0.4186" stop-color="#4664da"/><stop offset="0.4204" stop-color="#424bb5"/><stop offset="0.4223" stop-color="#3a2e74"/><stop offset="0.4242" stop-color="#341e4a"/><stop offset="0.4261" stop-color="#331b41"/><stop offset="0.6373" stop-color="#341d45"/><stop offset="0.6391" stop-color="#341f4c"/><stop offset="0.6410" stop-color="#37255c"/><stop offset="0.6429" stop-color="#3b317c"/><stop offset="0.6448" stop-color="#4249b1"/><stop offset="0.6467" stop-color="#4773eb"/><stop offset="0.6486" stop-color="#31aff5"/><stop offset="0.6505" stop-color="#1fe9af"/><stop offset="0.6523" stop-color="#88ff4e"/><stop offset="0.6542" stop-color="#d2e935"/><stop offset="0.6561" stop-color="#f2c93a"/><stop offset="0.6580" stop-color="#f5c53a"/><stop offset="0.6599" stop-color="#dde037"/><stop offset="0.6618" stop-color="#9cfe40"/><stop offset="0.6637" stop-color="#2cf09e"/><stop offset="0.6655" stop-color="#28bceb"/><stop offset="0.6674" stop-color="#4680f6"/><stop offset="0.6693" stop-color="#4451bf"/><stop offset="0.6712" stop-color="#3c3585"/><stop offset="0.6731" stop-color="#382965"/><stop offset="0.6768" stop-color="#3e3991"/><stop offset="0.6938" stop-color="#3e3b95"/><stop offset="0.6957" stop-color="#4451bf"/><stop offset="0.6976" stop-color="#4773eb"/><stop offset="0.6995" stop-color="#4196ff"/><stop offset="0.7014" stop-color="#2ab9ee"/><stop offset="0.7032" stop-color="#1bd0d5"/><stop offset="0.7051" stop-color="#19d5cd"/><stop offset="0.7070" stop-color="#1bd0d5"/><stop offset="0.7089" stop-color="#2ab9ee"/><stop offset="0.7108" stop-color="#4196ff"/><stop offset="0.7127" stop-color="#4773eb"/><stop offset="0.7146" stop-color="#4451bf"/><stop offset="0.7164" stop-color="#3e3990"/><stop offset="0.7183" stop-color="#392b6b"/><stop offset="0.7202" stop-color="#362355"/><stop offset="0.7240" stop-color="#331c44"/><stop offset="0.7919" stop-color="#331b41"/><stop offset="0.7937" stop-color="#341e4a"/><stop offset="0.7956" stop-color="#382966"/><stop offset="0.7994" stop-color="#4249b1"/><stop offset="0.8013" stop-color="#4451bf"/><stop offset="0.8032" stop-color="#4454c3"/><stop offset="0.8069" stop-color="#4249b1"/><stop offset="0.8088" stop-color="#4773eb"/><stop offset="0.8107" stop-color="#31aff5"/><stop offset="0.8126" stop-color="#22ebaa"/><stop offset="0.8145" stop-color="#a1fd3d"/><stop offset="0.8164" stop-color="#f2c93a"/><stop offset="0.8183" stop-color="#fb7e21"/><stop offset="0.8201" stop-color="#eb500e"/><stop offset="0.8220" stop-color="#ed5510"/><stop offset="0.8239" stop-color="#fd8d27"/><stop offset="0.8258" stop-color="#e7d739"/><stop offset="0.8277" stop-color="#88ff4e"/><stop offset="0.8296" stop-color="#19e3b9"/><stop offset="0.8314" stop-color="#3aa3fc"/><stop offset="0.8333" stop-color="#4669e0"/><stop offset="0.8352" stop-color="#455ccf"/><stop offset="0.8522" stop-color="#455ed3"/><stop offset="0.8578" stop-color="#466be3"/><stop offset="0.8786" stop-color="#476ee6"/><stop offset="0.8824" stop-color="#455ed3"/><stop offset="0.8861" stop-color="#434eba"/><stop offset="0.8956" stop-color="#4249b1"/><stop offset="0.9012" stop-color="#3d388f"/><stop offset="0.9351" stop-color="#3d378c"/><stop offset="0.9370" stop-color="#3c3484"/><stop offset="0.9408" stop-color="#352150"/><stop offset="0.9427" stop-color="#331c43"/><stop offset="0.9992" stop-color="#331b41"/></linearGradient>
<linearGradient id="r6" gradientUnits="userSpaceOnUse" x1="323.2" x2="588.4" y1="0" y2="0"><stop offset="0.0000" stop-color="#331b41"/><stop offset="0.2432" stop-color="#331b41"/><stop offset="0.2451" stop-color="#341d46"/><stop offset="0.2470" stop-color="#382a69"/><stop offset="0.2489" stop-color="#4146ac"/><stop offset="0.2508" stop-color="#4664da"/><stop offset="0.2526" stop-color="#4771e9"/><stop offset="0.2677" stop-color="#4773eb"/><stop offset="0.2715" stop-color="#466be3"/><stop offset="0.2734" stop-color="#476ee6"/><stop offset="0.2753" stop-color="#37a8fa"/><stop offset="0.2771" stop-color="#cdec34"/><stop offset="0.2790" stop-color="#b41b01"/><stop offset="0.2809" stop-color="#7a0403"/><stop offset="0.2941" stop-color="#7a0403"/><stop offset="0.2960" stop-color="#b41b01"/><stop offset="0.2979" stop-color="#e5d938"/><stop offset="0.2998" stop-color="#8fff49"/><stop offset="0.3017" stop-color="#4ef97d"/><stop offset="0.3035" stop-color="#46f884"/><stop offset="0.3054" stop-color="#4af880"/><stop offset="0.3073" stop-color="#6dfe62"/><stop offset="0.3092" stop-color="#acfb38"/><stop offset="0.3111" stop-color="#e3db38"/><stop offset="0.3130" stop-color="#fea130"/><stop offset="0.3149" stop-color="#ef5811"/><stop offset="0.3167" stop-color="#d43305"/><stop offset="0.3186" stop-color="#7a0403"/><stop offset="0.3243" stop-color="#7a0403"/><stop offset="0.3262" stop-color="#d43305"/><stop offset="0.3281" stop-color="#99fe42"/><stop offset="0.3299" stop-color="#31aff5"/><stop offset="0.3318" stop-color="#477bf2"/><stop offset="0.3337" stop-color="#4669e0"/><stop offset="0.3507" stop-color="#4669e0"/><stop offset="0.3526" stop-color="#477bf2"/><stop offset="0.3544" stop-color="#20c7df"/><stop offset="0.3563" stop-color="#cdec34"/><stop offset="0.3582" stop-color="#b41b01"/><stop offset="0.3601" stop-color="#7a0403"/><stop offset="0.3639" stop-color="#7a0403"/><stop offset="0.3658" stop-color="#b41b01"/><stop offset="0.3676" stop-color="#cdec34"/><stop offset="0.3695" stop-color="#96fe44"/><stop offset="0.3714" stop-color="#59fb73"/><stop offset="0.3733" stop-color="#46f884"/><stop offset="0.3790" stop-color="#46f884"/><stop offset="0.3808" stop-color="#32f298"/><stop offset="0.3827" stop-color="#18d9c8"/><stop offset="0.3846" stop-color="#37a8fa"/><stop offset="0.3865" stop-color="#477bf2"/><stop offset="0.3884" stop-color="#4669e0"/><stop offset="0.3922" stop-color="#4664da"/><stop offset="0.3959" stop-color="#455ed3"/><stop offset="0.3978" stop-color="#424bb5"/><stop offset="0.3997" stop-color="#3d388d"/><stop offset="0.4016" stop-color="#3b317c"/><stop offset="0.4072" stop-color="#3b327f"/><stop offset="0.4091" stop-color="#3d388f"/><stop offset="0.4110" stop-color="#4146ac"/><stop offset="0.4129" stop-color="#4451bf"/><stop offset="0.4186" stop-color="#4454c3"/><stop offset="0.4204" stop-color="#4451bf"/><stop offset="0.4223" stop-color="#4040a2"/><stop offset="0.4242" stop-color="#392b6d"/><stop offset="0.4261" stop-color="#341e49"/><stop offset="0.4299" stop-color="#331b41"/><stop offset="0.6354" stop-color="#331c44"/><stop offset="0.6391" stop-color="#352253"/><stop offset="0.6410" stop-color="#382967"/><stop offset="0.6429" stop-color="#3d388c"/><stop offset="0.6448" stop-color="#4454c3"/><stop offset="0.6467" stop-color="#477bf2"/><stop offset="0.6486" stop-color="#33adf7"/><stop offset="0.6505" stop-color="#18e0bd"/><stop offset="0.6523" stop-color="#52fa7a"/><stop offset="0.6542" stop-color="#99fe42"/><stop offset="0.6561" stop-color="#b4f836"/><stop offset="0.6580" stop-color="#b1f936"/><stop offset="0.6599" stop-color="#8fff49"/><stop offset="0.6618" stop-color="#43f787"/><stop offset="0.6637" stop-color="#18d7ca"/><stop offset="0.6655" stop-color="#3aa3fc"/><stop offset="0.6674" stop-color="#4771e9"/><stop offset="0.6693" stop-color="#424bb5"/><stop offset="0.6712" stop-color="#3c3483"/><stop offset="0.6731" stop-color="#382965"/><stop offset="0.6768" stop-color="#3e3991"/><stop offset="0.6976" stop-color="#3e3b95"/><stop offset="0.6995" stop-color="#424bb5"/><stop offset="0.7014" stop-color="#4771e9"/><stop offset="0.7032" stop-color="#3ba0fd"/><stop offset="0.7051" stop-color="#1ad2d2"/><stop offset="0.7070" stop-color="#25eca7"/><stop offset="0.7089" stop-color="#43f787"/><stop offset="0.7108" stop-color="#3ff68a"/><stop offset="0.7127" stop-color="#1fe9af"/><stop offset="0.7146" stop-color="#1fc9dd"/><stop offset="0.7164" stop-color="#4196ff"/><stop offset="0.7183" stop-color="#4669e0"/><stop offset="0.7202" stop-color="#4143a7"/><stop offset="0.7221" stop-color="#3a2f77"/><stop offset="0.7240" stop-color="#36245a"/><stop offset="0.7259" stop-color="#341f4b"/><stop offset="0.7334" stop-color="#331b41"/><stop offset="0.7937" stop-color="#331b41"/><stop offset="0.7956" stop-color="#341f4b"/><stop offset="0.7975" stop-color="#382a69"/><stop offset="0.7994" stop-color="#3e3991"/><stop offset="0.8013" stop-color="#4146ac"/><stop offset="0.8032" stop-color="#434eba"/><stop offset="0.8051" stop-color="#434eba"/><stop offset="0.8069" stop-color="#4249b1"/><stop offset="0.8088" stop-color="#4451bf"/><stop offset="0.8107" stop-color="#477bf2"/><stop offset="0.8126" stop-color="#2cb7f0"/><stop offset="0.8145" stop-color="#27eea4"/><stop offset="0.8164" stop-color="#99fe42"/><stop offset="0.8183" stop-color="#e5d938"/><stop offset="0.8201" stop-color="#fdac34"/><stop offset="0.8220" stop-color="#fe962b"/><stop offset="0.8239" stop-color="#fdac34"/><stop offset="0.8258" stop-color="#e5d938"/><stop offset="0.8277" stop-color="#99fe42"/><stop offset="0.8296" stop-color="#27eea4"/><stop offset="0.8314" stop-color="#2cb7f0"/><stop offset="0.8333" stop-color="#477bf2"/><stop offset="0.8352" stop-color="#4454c3"/><stop offset="0.8541" stop-color="#4454c3"/><stop offset="0.8578" stop-color="#466be3"/><stop offset="0.8597" stop-color="#4773eb"/><stop offset="0.8710" stop-color="#4773eb"/><stop offset="0.8729" stop-color="#4680f6"/><stop offset="0.8748" stop-color="#3d9efe"/><stop offset="0.8767" stop-color="#28bceb"/><stop offset="0.8805" stop-color="#1ccdd8"/><stop offset="0.8824" stop-color="#22ebaa"/><stop offset="0.8842" stop-color="#35f394"/><stop offset="0.8861" stop-color="#22ebaa"/><stop offset="0.8880" stop-color="#1ccdd8"/><stop offset="0.8918" stop-color="#2eb4f2"/><stop offset="0.8937" stop-color="#4196ff"/><stop offset="0.8956" stop-color="#4776ee"/><stop offset="0.8974" stop-color="#4661d6"/><stop offset="0.9012" stop-color="#455ccf"/><stop offset="0.9389" stop-color="#4559cb"/><stop offset="0.9408" stop-color="#4249b1"/><stop offset="0.9427" stop-color="#3b3079"/><stop offset="0.9446" stop-color="#35204d"/><stop offset="0.9465" stop-color="#331b41"/><stop offset="0.9992" stop-color="#331b41"/></linearGradient>
<linearGradient id="r7" gradientUnits="userSpaceOnUse" x1="323.2" x2="588.4" y1="0" y2="0"><stop offset="0.0000" stop-color="#331b41"/><stop offset="0.2432" stop-color="#331b41"/><stop offset="0.2451" stop-color="#341d46"/><stop offset="0.2470" stop-color="#382a69"/><stop offset="0.2489" stop-color="#4146ac"/><stop offset="0.2508" stop-color="#4661d6"/><stop offset="0.2526" stop-color="#466be3"/><stop offset="0.2696" stop-color="#466be3"/><stop offset="0.2734" stop-color="#466be3"/><stop offset="0.2753" stop-color="#4099ff"/><stop offset="0.2771" stop-color="#b4f836"/><stop offset="0.2790" stop-color="#c52603"/><stop offset="0.2809" stop-color="#7a0403"/><stop offset="0.2922" stop-color="#7a0403"/><stop offset="0.2941" stop-color="#a41301"/><stop offset="0.2960" stop-color="#f7c13a"/><stop offset="0.2979" stop-color="#cdec34"/><stop offset="0.2998" stop-color="#96fe44"/><stop offset="0.3017" stop-color="#69fd66"/><stop offset="0.3035" stop-color="#59fb73"/><stop offset="0.3054" stop-color="#75fe5c"/><stop offset="0.3073" stop-color="#b7f735"/><stop offset="0.3092" stop-color="#f1cb3a"/><stop offset="0.3111" stop-color="#fe932a"/><stop offset="0.3130" stop-color="#810602"/><stop offset="0.3167" stop-color="#7a0403"/><stop offset="0.3243" stop-color="#7a0403"/><stop offset="0.3262" stop-color="#d43305"/><stop offset="0.3281" stop-color="#99fe42"/><stop offset="0.3299" stop-color="#28bceb"/><stop offset="0.3318" stop-color="#477bf2"/><stop offset="0.3337" stop-color="#4669e0"/><stop offset="0.3507" stop-color="#4669e0"/><stop offset="0.3526" stop-color="#4682f8"/><stop offset="0.3544" stop-color="#18dec0"/><stop offset="0.3563" stop-color="#d4e735"/><stop offset="0.3582" stop-color="#f76f1a"/><stop offset="0.3601" stop-color="#ef5811"/><stop offset="0.3620" stop-color="#fc8725"/><stop offset="0.3639" stop-color="#f5c53a"/><stop offset="0.3658" stop-color="#b4f836"/><stop offset="0.3676" stop-color="#65fd69"/><stop offset="0.3695" stop-color="#46f884"/><stop offset="0.3714" stop-color="#35f394"/><stop offset="0.3733" stop-color="#19e2bb"/><stop offset="0.3752" stop-color="#1ccdd8"/><stop offset="0.3790" stop-color="#2ab9ee"/><stop offset="0.3808" stop-color="#4294ff"/><stop offset="0.3827" stop-color="#4771e9"/><stop offset="0.3846" stop-color="#4664da"/><stop offset="0.3940" stop-color="#4664da"/><stop offset="0.3959" stop-color="#455ed3"/><stop offset="0.3978" stop-color="#4249b1"/><stop offset="0.3997" stop-color="#3c3483"/><stop offset="0.4016" stop-color="#392d70"/><stop offset="0.4110" stop-color="#3a2e73"/><stop offset="0.4148" stop-color="#3e3a94"/><stop offset="0.4167" stop-color="#3f3e9c"/><stop offset="0.4204" stop-color="#3f3d9a"/><stop offset="0.4223" stop-color="#3b337f"/><stop offset="0.4242" stop-color="#362459"/><stop offset="0.4261" stop-color="#331c44"/><stop offset="0.6335" stop-color="#331c43"/><stop offset="0.6373" stop-color="#341f4b"/><stop offset="0.6391" stop-color="#362459"/><stop offset="0.6410" stop-color="#3a2e73"/><stop offset="0.6429" stop-color="#3f3e9c"/><stop offset="0.6448" stop-color="#4661d6"/><stop offset="0.6467" stop-color="#458cfd"/><stop offset="0.6486" stop-color="#25c0e7"/><stop offset="0.6505" stop-color="#22ebaa"/><stop offset="0.6523" stop-color="#69fd66"/><stop offset="0.6542" stop-color="#a1fd3d"/><stop offset="0.6561" stop-color="#b1f936"/><stop offset="0.6580" stop-color="#a1fd3d"/><stop offset="0.6599" stop-color="#69fd66"/><stop offset="0.6618" stop-color="#22ebaa"/><stop offset="0.6637" stop-color="#25c0e7"/><stop offset="0.6655" stop-color="#458cfd"/><stop offset="0.6674" stop-color="#4661d6"/><stop offset="0.6693" stop-color="#3f3e9c"/><stop offset="0.6712" stop-color="#3a2e73"/><stop offset="0.6731" stop-color="#382965"/><stop offset="0.6768" stop-color="#3e3991"/><stop offset="0.6919" stop-color="#3e3b95"/><stop offset="0.6938" stop-color="#4559cb"/><stop offset="0.6957" stop-color="#458afc"/><stop offset="0.6976" stop-color="#1fc9dd"/><stop offset="0.6995" stop-color="#3ff68a"/><stop offset="0.7014" stop-color="#acfb38"/><stop offset="0.7032" stop-color="#e5d938"/><stop offset="0.7051" stop-color="#f6c33a"/><stop offset="0.7070" stop-color="#efcd3a"/><stop offset="0.7089" stop-color="#c8ef34"/><stop offset="0.7108" stop-color="#71fe5f"/><stop offset="0.7127" stop-color="#18e0bd"/><stop offset="0.7146" stop-color="#3aa3fc"/><stop offset="0.7164" stop-color="#466be3"/><stop offset="0.7183" stop-color="#4143a7"/><stop offset="0.7202" stop-color="#3a2e74"/><stop offset="0.7221" stop-color="#362458"/><stop offset="0.7259" stop-color="#331c44"/><stop offset="0.7937" stop-color="#331c44"/><stop offset="0.7956" stop-color="#352253"/><stop offset="0.7994" stop-color="#3e398f"/><stop offset="0.8013" stop-color="#4040a2"/><stop offset="0.8051" stop-color="#4143a7"/><stop offset="0.8069" stop-color="#4666dd"/><stop offset="0.8088" stop-color="#4294ff"/><stop offset="0.8107" stop-color="#1fc9dd"/><stop offset="0.8126" stop-color="#2ff19b"/><stop offset="0.8145" stop-color="#84ff51"/><stop offset="0.8164" stop-color="#bcf534"/><stop offset="0.8183" stop-color="#d4e735"/><stop offset="0.8201" stop-color="#d2e935"/><stop offset="0.8220" stop-color="#b4f836"/><stop offset="0.8239" stop-color="#75fe5c"/><stop offset="0.8258" stop-color="#22ebaa"/><stop offset="0.8277" stop-color="#27bee9"/><stop offset="0.8296" stop-color="#458afc"/><stop offset="0.8314" stop-color="#455ed3"/><stop offset="0.8333" stop-color="#4040a2"/><stop offset="0.8541" stop-color="#4040a2"/><stop offset="0.8597" stop-color="#455ccf"/><stop offset="0.8692" stop-color="#455ccf"/><stop offset="0.8710" stop-color="#38a5fb"/><stop offset="0.8729" stop-color="#b9f635"/><stop offset="0.8748" stop-color="#cc2b04"/><stop offset="0.8767" stop-color="#7a0403"/><stop offset="0.8805" stop-color="#7a0403"/><stop offset="0.8824" stop-color="#920b01"/><stop offset="0.8842" stop-color="#fcb136"/><stop offset="0.8861" stop-color="#19e2bb"/><stop offset="0.8880" stop-color="#455ccf"/><stop offset="0.8899" stop-color="#4454c3"/><stop offset="0.8993" stop-color="#4451bf"/><stop offset="0.9012" stop-color="#424bb5"/><stop offset="0.9050" stop-color="#3e3990"/><stop offset="0.9163" stop-color="#3d378c"/><stop offset="0.9219" stop-color="#3e398f"/><stop offset="0.9238" stop-color="#3f3e9c"/><stop offset="0.9257" stop-color="#424bb5"/><stop offset="0.9295" stop-color="#4454c3"/><stop offset="0.9333" stop-color="#4454c3"/><stop offset="0.9351" stop-color="#424bb5"/><stop offset="0.9370" stop-color="#3d378a"/><stop offset="0.9389" stop-color="#362254"/><stop offset="0.9408" stop-color="#331b41"/><stop offset="0.9992" stop-color="#331b41"/></linearGradient>
<linearGradient id="r8" gradientUnits="userSpaceOnUse" x1="323.2" x2="588.4" y1="0" y2="0"><stop offset="0.0000" stop-color="#331b41"/><stop offset="0.2432" stop-color="#331b41"/><stop offset="0.2451" stop-color="#341d46"/><stop offset="0.2470" stop-color="#382966"/><stop offset="0.2489" stop-color="#4143a7"/><stop offset="0.2508" stop-color="#455ccf"/><stop offset="0.2526" stop-color="#4664da"/><stop offset="0.2715" stop-color="#4664da"/><stop offset="0.2734" stop-color="#4669e0"/><stop offset="0.2753" stop-color="#1ecbda"/><stop offset="0.2771" stop-color="#f5c53a"/><stop offset="0.2790" stop-color="#950d01"/><stop offset="0.2809" stop-color="#7a0403"/><stop offset="0.2903" stop-color="#7a0403"/><stop offset="0.2922" stop-color="#950d01"/><stop offset="0.2941" stop-color="#f5c53a"/><stop offset="0.2960" stop-color="#9ffd3f"/><stop offset="0.2979" stop-color="#59fb73"/><stop offset="0.2998" stop-color="#46f884"/><stop offset="0.3017" stop-color="#46f884"/><stop offset="0.3035" stop-color="#6dfe62"/><stop offset="0.3054" stop-color="#b9f635"/><stop offset="0.3073" stop-color="#d43305"/><stop offset="0.3092" stop-color="#7a0403"/><stop offset="0.3224" stop-color="#7a0403"/><stop offset="0.3243" stop-color="#950d01"/><stop offset="0.3262" stop-color="#f5c53a"/><stop offset="0.3281" stop-color="#18d9c8"/><stop offset="0.3299" stop-color="#4687fb"/><stop offset="0.3318" stop-color="#4669e0"/><stop offset="0.3356" stop-color="#4664da"/><stop offset="0.3488" stop-color="#4664da"/><stop offset="0.3507" stop-color="#4776ee"/><stop offset="0.3526" stop-color="#3e9bfe"/><stop offset="0.3544" stop-color="#27bee9"/><stop offset="0.3563" stop-color="#20c7df"/><stop offset="0.3620" stop-color="#22c5e2"/><stop offset="0.3639" stop-color="#2fb2f4"/><stop offset="0.3658" stop-color="#448ffe"/><stop offset="0.3676" stop-color="#4776ee"/><stop offset="0.3714" stop-color="#476ee6"/><stop offset="0.3959" stop-color="#4771e9"/><stop offset="0.3997" stop-color="#4682f8"/><stop offset="0.4016" stop-color="#3d9efe"/><stop offset="0.4035" stop-color="#25c0e7"/><stop offset="0.4054" stop-color="#1ad2d2"/><stop offset="0.4072" stop-color="#19d5cd"/><stop offset="0.4091" stop-color="#22c5e2"/><stop offset="0.4110" stop-color="#4391fe"/><stop offset="0.4129" stop-color="#4661d6"/><stop offset="0.4148" stop-color="#4146ac"/><stop offset="0.4167" stop-color="#3a2f75"/><stop offset="0.4186" stop-color="#351f4c"/><stop offset="0.4204" stop-color="#331b41"/><stop offset="0.6316" stop-color="#331c43"/><stop offset="0.6354" stop-color="#35204e"/><stop offset="0.6373" stop-color="#37265e"/><stop offset="0.6391" stop-color="#3b317c"/><stop offset="0.6410" stop-color="#4146ac"/><stop offset="0.6429" stop-color="#4666dd"/><stop offset="0.6448" stop-color="#4294ff"/><stop offset="0.6467" stop-color="#22c5e2"/><stop offset="0.6486" stop-color="#20eaac"/><stop offset="0.6505" stop-color="#59fb73"/><stop offset="0.6523" stop-color="#84ff51"/><stop offset="0.6542" stop-color="#88ff4e"/><stop offset="0.6561" stop-color="#65fd69"/><stop offset="0.6580" stop-color="#2aefa1"/><stop offset="0.6599" stop-color="#1ccdd8"/><stop offset="0.6618" stop-color="#3d9efe"/><stop offset="0.6637" stop-color="#4771e9"/><stop offset="0.6655" stop-color="#424bb5"/><stop offset="0.6674" stop-color="#3c3484"/><stop offset="0.6693" stop-color="#382863"/><stop offset="0.6712" stop-color="#352152"/><stop offset="0.6768" stop-color="#3e3991"/><stop offset="0.6900" stop-color="#3e3b95"/><stop offset="0.6919" stop-color="#4146ac"/><stop offset="0.6938" stop-color="#4773eb"/><stop offset="0.6957" stop-color="#2ab9ee"/><stop offset="0.6976" stop-color="#3cf58e"/><stop offset="0.6995" stop-color="#c3f134"/><stop offset="0.7014" stop-color="#fea933"/><stop offset="0.7032" stop-color="#f46617"/><stop offset="0.7051" stop-color="#f26014"/><stop offset="0.7070" stop-color="#fe992c"/><stop offset="0.7089" stop-color="#d7e535"/><stop offset="0.7108" stop-color="#59fb73"/><stop offset="0.7127" stop-color="#20c7df"/><stop offset="0.7146" stop-color="#4680f6"/><stop offset="0.7164" stop-color="#434eba"/><stop offset="0.7183" stop-color="#3b317b"/><stop offset="0.7202" stop-color="#362459"/><stop offset="0.7221" stop-color="#341e4a"/><stop offset="0.7296" stop-color="#331b41"/><stop offset="0.7919" stop-color="#331c43"/><stop offset="0.7937" stop-color="#35204e"/><stop offset="0.7975" stop-color="#3d378a"/><stop offset="0.7994" stop-color="#4040a2"/><stop offset="0.8013" stop-color="#4143a7"/><stop offset="0.8032" stop-color="#455ccf"/><stop offset="0.8051" stop-color="#4682f8"/><stop offset="0.8069" stop-color="#2fb2f4"/><stop offset="0.8088" stop-color="#18dec0"/><stop offset="0.8107" stop-color="#46f884"/><stop offset="0.8126" stop-color="#84ff51"/><stop offset="0.8145" stop-color="#a1fd3d"/><stop offset="0.8164" stop-color="#9ffd3f"/><stop offset="0.8183" stop-color="#79fe59"/><stop offset="0.8201" stop-color="#38f491"/><stop offset="0.8220" stop-color="#18d7ca"/><stop offset="0.8239" stop-color="#37a8fa"/><stop offset="0.8258" stop-color="#477bf2"/><stop offset="0.8277" stop-color="#4454c3"/><stop offset="0.8296" stop-color="#4143a7"/><stop offset="0.8541" stop-color="#4143a7"/><stop offset="0.8560" stop-color="#4249b1"/><stop offset="0.8597" stop-color="#4666dd"/><stop offset="0.8616" stop-color="#4771e9"/><stop offset="0.8654" stop-color="#4773eb"/><stop offset="0.8673" stop-color="#3ba0fd"/><stop offset="0.8692" stop-color="#20eaac"/><stop offset="0.8710" stop-color="#b1f936"/><stop offset="0.8729" stop-color="#fcb336"/><stop offset="0.8748" stop-color="#f46617"/><stop offset="0.8767" stop-color="#f26014"/><stop offset="0.8786" stop-color="#fea130"/><stop offset="0.8805" stop-color="#c6f034"/><stop offset="0.8824" stop-color="#35f394"/><stop offset="0.8842" stop-color="#31aff5"/><stop offset="0.8861" stop-color="#4669e0"/><stop offset="0.8880" stop-color="#4454c3"/><stop offset="0.9012" stop-color="#4451bf"/><stop offset="0.9050" stop-color="#3f3d9b"/><stop offset="0.9069" stop-color="#3c3586"/><stop offset="0.9125" stop-color="#3c3381"/><stop offset="0.9201" stop-color="#3c3483"/><stop offset="0.9257" stop-color="#4451bf"/><stop offset="0.9314" stop-color="#4454c3"/><stop offset="0.9333" stop-color="#424bb5"/><stop offset="0.9370" stop-color="#352252"/><stop offset="0.9389" stop-color="#331b41"/><stop offset="0.9992" stop-color="#331b41"/></linearGradient>
<linearGradient id="r9" gradientUnits="userSpaceOnUse" x1="323.2" x2="588.4" y1="0" y2="0"><stop offset="0.0000" stop-color="#331b41"/><stop offset="0.2451" stop-color="#331c44"/><stop offset="0.2470" stop-color="#37255b"/><stop offset="0.2489" stop-color="#3d368a"/><stop offset="0.2508" stop-color="#4146ac"/><stop offset="0.2564" stop-color="#424bb5"/><stop offset="0.2621" stop-color="#4664da"/><stop offset="0.2696" stop-color="#4664da"/><stop offset="0.2715" stop-color="#476ee6"/><stop offset="0.2734" stop-color="#458afc"/><stop offset="0.2753" stop-color="#1ecbda"/><stop offset="0.2771" stop-color="#f5c53a"/><stop offset="0.2790" stop-color="#950d01"/><stop offset="0.2809" stop-color="#7a0403"/><stop offset="0.2885" stop-color="#7a0403"/><stop offset="0.2903" stop-color="#810602"/><stop offset="0.2922" stop-color="#fe932a"/><stop offset="0.2941" stop-color="#a4fc3c"/><stop offset="0.2960" stop-color="#5dfc6f"/><stop offset="0.2979" stop-color="#46f884"/><stop offset="0.2998" stop-color="#46f884"/><stop offset="0.3017" stop-color="#55fa76"/><stop offset="0.3035" stop-color="#96fe44"/><stop offset="0.3054" stop-color="#f5c53a"/><stop offset="0.3073" stop-color="#950d01"/><stop offset="0.3092" stop-color="#7a0403"/><stop offset="0.3224" stop-color="#7a0403"/><stop offset="0.3243" stop-color="#b41b01"/><stop offset="0.3262" stop-color="#cdec34"/><stop offset="0.3281" stop-color="#23c3e4"/><stop offset="0.3299" stop-color="#4680f6"/><stop offset="0.3318" stop-color="#4669e0"/><stop offset="0.3356" stop-color="#4664da"/><stop offset="0.3544" stop-color="#4666dd"/><stop offset="0.3601" stop-color="#4682f8"/><stop offset="0.3639" stop-color="#4682f8"/><stop offset="0.3676" stop-color="#466be3"/><stop offset="0.3733" stop-color="#4664da"/><stop offset="0.3978" stop-color="#4661d6"/><stop offset="0.3997" stop-color="#477bf2"/><stop offset="0.4016" stop-color="#33adf7"/><stop offset="0.4035" stop-color="#18e0bd"/><stop offset="0.4054" stop-color="#35f394"/><stop offset="0.4072" stop-color="#46f884"/><stop offset="0.4091" stop-color="#2cf09e"/><stop offset="0.4110" stop-color="#20c7df"/><stop offset="0.4129" stop-color="#467df4"/><stop offset="0.4148" stop-color="#4146ac"/><stop offset="0.4167" stop-color="#37275f"/><stop offset="0.4186" stop-color="#331c43"/><stop offset="0.6278" stop-color="#331c43"/><stop offset="0.6316" stop-color="#341f4b"/><stop offset="0.6335" stop-color="#362357"/><stop offset="0.6354" stop-color="#392b6c"/><stop offset="0.6373" stop-color="#3e398f"/><stop offset="0.6410" stop-color="#4771e9"/><stop offset="0.6429" stop-color="#4196ff"/><stop offset="0.6448" stop-color="#27bee9"/><stop offset="0.6467" stop-color="#18ddc2"/><stop offset="0.6486" stop-color="#27eea4"/><stop offset="0.6505" stop-color="#35f394"/><stop offset="0.6523" stop-color="#2cf09e"/><stop offset="0.6542" stop-color="#1ae4b6"/><stop offset="0.6561" stop-color="#1ecbda"/><stop offset="0.6580" stop-color="#38a5fb"/><stop offset="0.6599" stop-color="#467df4"/><stop offset="0.6637" stop-color="#4040a2"/><stop offset="0.6655" stop-color="#3a3078"/><stop offset="0.6674" stop-color="#37265e"/><stop offset="0.6693" stop-color="#382965"/><stop offset="0.6731" stop-color="#3e3991"/><stop offset="0.6863" stop-color="#3e3b95"/><stop offset="0.6882" stop-color="#4559cb"/><stop offset="0.6900" stop-color="#4391fe"/><stop offset="0.6919" stop-color="#18d9c8"/><stop offset="0.6938" stop-color="#7dff56"/><stop offset="0.6957" stop-color="#e1dd37"/><stop offset="0.6976" stop-color="#fe9e2f"/><stop offset="0.6995" stop-color="#fb7e21"/><stop offset="0.7014" stop-color="#fe9e2f"/><stop offset="0.7032" stop-color="#e1dd37"/><stop offset="0.7051" stop-color="#7dff56"/><stop offset="0.7070" stop-color="#18d9c8"/><stop offset="0.7089" stop-color="#4391fe"/><stop offset="0.7108" stop-color="#4559cb"/><stop offset="0.7127" stop-color="#3d378c"/><stop offset="0.7146" stop-color="#382a6a"/><stop offset="0.7164" stop-color="#362255"/><stop offset="0.7202" stop-color="#331c43"/><stop offset="0.7900" stop-color="#341d45"/><stop offset="0.7919" stop-color="#341f4a"/><stop offset="0.7937" stop-color="#372862"/><stop offset="0.7956" stop-color="#3c3484"/><stop offset="0.7975" stop-color="#3f3e9c"/><stop offset="0.7994" stop-color="#4451bf"/><stop offset="0.8013" stop-color="#4773eb"/><stop offset="0.8032" stop-color="#3ba0fd"/><stop offset="0.8051" stop-color="#1ccdd8"/><stop offset="0.8069" stop-color="#27eea4"/><stop offset="0.8088" stop-color="#61fc6c"/><stop offset="0.8107" stop-color="#84ff51"/><stop offset="0.8126" stop-color="#88ff4e"/><stop offset="0.8145" stop-color="#69fd66"/><stop offset="0.8164" stop-color="#32f298"/><stop offset="0.8183" stop-color="#18d7ca"/><stop offset="0.8201" stop-color="#35abf8"/><stop offset="0.8220" stop-color="#467df4"/><stop offset="0.8239" stop-color="#4456c7"/><stop offset="0.8541" stop-color="#4454c3"/><stop offset="0.8597" stop-color="#455ccf"/><stop offset="0.8616" stop-color="#477bf2"/><stop offset="0.8635" stop-color="#27bee9"/><stop offset="0.8654" stop-color="#38f491"/><stop offset="0.8673" stop-color="#b1f936"/><stop offset="0.8692" stop-color="#eecf3a"/><stop offset="0.8710" stop-color="#fcb336"/><stop offset="0.8729" stop-color="#f7c13a"/><stop offset="0.8748" stop-color="#d0ea34"/><stop offset="0.8767" stop-color="#6dfe62"/><stop offset="0.8786" stop-color="#18d9c8"/><stop offset="0.8805" stop-color="#4294ff"/><stop offset="0.8824" stop-color="#455ccf"/><stop offset="0.9219" stop-color="#4456c7"/><stop offset="0.9238" stop-color="#4454c3"/><stop offset="0.9257" stop-color="#424bb5"/><stop offset="0.9295" stop-color="#382864"/><stop offset="0.9314" stop-color="#341e48"/><stop offset="0.9351" stop-color="#331b41"/><stop offset="0.9992" stop-color="#331b41"/></linearGradient>
<linearGradient id="r10" gradientUnits="userSpaceOnUse" x1="323.2" x2="588.4" y1="0" y2="0"><stop offset="0.0000" stop-color="#331b41"/><stop offset="0.2451" stop-color="#331c44"/><stop offset="0.2470" stop-color="#37255b"/><stop offset="0.2489" stop-color="#3d378a"/><stop offset="0.2508" stop-color="#4146ac"/><stop offset="0.2526" stop-color="#424bb5"/><stop offset="0.2677" stop-color="#4456c7"/><stop offset="0.2696" stop-color="#455ed3"/><stop offset="0.2715" stop-color="#4680f6"/><stop offset="0.2734" stop-color="#22c5e2"/><stop offset="0.2753" stop-color="#55fa76"/><stop offset="0.2771" stop-color="#f05b12"/><stop offset="0.2790" stop-color="#7a0403"/><stop offset="0.2847" stop-color="#7a0403"/><stop offset="0.2866" stop-color="#950d01"/><stop offset="0.2885" stop-color="#f5c53a"/><stop offset="0.2903" stop-color="#92ff47"/><stop offset="0.2922" stop-color="#35f394"/><stop offset="0.2941" stop-color="#20eaac"/><stop offset="0.2979" stop-color="#20eaac"/><stop offset="0.2998" stop-color="#2aefa1"/><stop offset="0.3017" stop-color="#59fb73"/><stop offset="0.3035" stop-color="#fdae35"/><stop offset="0.3054" stop-color="#8b0902"/><stop offset="0.3073" stop-color="#7a0403"/><stop offset="0.3130" stop-color="#7a0403"/><stop offset="0.3149" stop-color="#a41301"/><stop offset="0.3167" stop-color="#f4c73a"/><stop offset="0.3186" stop-color="#acfb38"/><stop offset="0.3205" stop-color="#25eca7"/><stop offset="0.3224" stop-color="#1ecbda"/><stop offset="0.3262" stop-color="#25c0e7"/><stop offset="0.3281" stop-color="#38a5fb"/><stop offset="0.3299" stop-color="#467df4"/><stop offset="0.3318" stop-color="#4669e0"/><stop offset="0.3356" stop-color="#4664da"/><stop offset="0.3469" stop-color="#4664da"/><stop offset="0.3488" stop-color="#4773eb"/><stop offset="0.3507" stop-color="#38a5fb"/><stop offset="0.3526" stop-color="#25eca7"/><stop offset="0.3544" stop-color="#affa37"/><stop offset="0.3563" stop-color="#ecd13a"/><stop offset="0.3582" stop-color="#e7d739"/><stop offset="0.3601" stop-color="#92ff47"/><stop offset="0.3620" stop-color="#18d7ca"/><stop offset="0.3639" stop-color="#4391fe"/><stop offset="0.3658" stop-color="#476ee6"/><stop offset="0.3676" stop-color="#4664da"/><stop offset="0.3959" stop-color="#4664da"/><stop offset="0.3978" stop-color="#4776ee"/><stop offset="0.3997" stop-color="#2eb4f2"/><stop offset="0.4016" stop-color="#6dfe62"/><stop offset="0.4035" stop-color="#faba39"/><stop offset="0.4054" stop-color="#f9751d"/><stop offset="0.4072" stop-color="#f8be39"/><stop offset="0.4091" stop-color="#5dfc6f"/><stop offset="0.4110" stop-color="#38a5fb"/><stop offset="0.4129" stop-color="#4661d6"/><stop offset="0.4148" stop-color="#3e398f"/><stop offset="0.4167" stop-color="#362458"/><stop offset="0.4186" stop-color="#331c43"/><stop offset="0.6222" stop-color="#331c44"/><stop offset="0.6278" stop-color="#352253"/><stop offset="0.6316" stop-color="#3a2e74"/><stop offset="0.6354" stop-color="#4249b1"/><stop offset="0.6391" stop-color="#4776ee"/><stop offset="0.6410" stop-color="#458cfd"/><stop offset="0.6429" stop-color="#3aa3fc"/><stop offset="0.6448" stop-color="#2cb7f0"/><stop offset="0.6486" stop-color="#20c7df"/><stop offset="0.6523" stop-color="#2cb7f0"/><stop offset="0.6542" stop-color="#3aa3fc"/><stop offset="0.6561" stop-color="#458cfd"/><stop offset="0.6580" stop-color="#4776ee"/><stop offset="0.6618" stop-color="#4249b1"/><stop offset="0.6637" stop-color="#3e3990"/><stop offset="0.6806" stop-color="#3e3b95"/><stop offset="0.6825" stop-color="#3e3b95"/><stop offset="0.6844" stop-color="#4559cb"/><stop offset="0.6863" stop-color="#4196ff"/><stop offset="0.6882" stop-color="#19e3b9"/><stop offset="0.6900" stop-color="#99fe42"/><stop offset="0.6919" stop-color="#f2c93a"/><stop offset="0.6938" stop-color="#fd8d27"/><stop offset="0.6957" stop-color="#fc8423"/><stop offset="0.6976" stop-color="#f9bc39"/><stop offset="0.6995" stop-color="#affa37"/><stop offset="0.7014" stop-color="#25eca7"/><stop offset="0.7032" stop-color="#38a5fb"/><stop offset="0.7051" stop-color="#4664da"/><stop offset="0.7070" stop-color="#3e3b95"/><stop offset="0.7127" stop-color="#362255"/><stop offset="0.7164" stop-color="#331c43"/><stop offset="0.7862" stop-color="#331c44"/><stop offset="0.7900" stop-color="#352152"/><stop offset="0.7919" stop-color="#382a69"/><stop offset="0.7956" stop-color="#4143a7"/><stop offset="0.7975" stop-color="#455ed3"/><stop offset="0.7994" stop-color="#4680f6"/><stop offset="0.8013" stop-color="#3aa3fc"/><stop offset="0.8032" stop-color="#23c3e4"/><stop offset="0.8051" stop-color="#18d9c8"/><stop offset="0.8069" stop-color="#19e2bb"/><stop offset="0.8088" stop-color="#19e2bb"/><stop offset="0.8107" stop-color="#19d5cd"/><stop offset="0.8126" stop-color="#27bee9"/><stop offset="0.8145" stop-color="#3e9bfe"/><stop offset="0.8164" stop-color="#4778f0"/><stop offset="0.8183" stop-color="#4559cb"/><stop offset="0.8201" stop-color="#434eba"/><stop offset="0.8522" stop-color="#434eba"/><stop offset="0.8560" stop-color="#4454c3"/><stop offset="0.8578" stop-color="#4664da"/><stop offset="0.8597" stop-color="#1fe9af"/><stop offset="0.8616" stop-color="#fea130"/><stop offset="0.8635" stop-color="#8b0902"/><stop offset="0.8654" stop-color="#7a0403"/><stop offset="0.8729" stop-color="#7a0403"/><stop offset="0.8748" stop-color="#f66c19"/><stop offset="0.8767" stop-color="#52fa7a"/><stop offset="0.8786" stop-color="#4778f0"/><stop offset="0.8805" stop-color="#4454c3"/><stop offset="0.8842" stop-color="#4454c3"/><stop offset="0.8861" stop-color="#4559cb"/><stop offset="0.8899" stop-color="#4771e9"/><stop offset="0.8937" stop-color="#4773eb"/><stop offset="0.8956" stop-color="#476ee6"/><stop offset="0.8993" stop-color="#4451bf"/><stop offset="0.9125" stop-color="#434eba"/><stop offset="0.9144" stop-color="#4451bf"/><stop offset="0.9182" stop-color="#4664da"/><stop offset="0.9219" stop-color="#4666dd"/><stop offset="0.9238" stop-color="#455ed3"/><stop offset="0.9257" stop-color="#4040a2"/><stop offset="0.9276" stop-color="#36255a"/><stop offset="0.9295" stop-color="#331b41"/><stop offset="0.9992" stop-color="#331b41"/></linearGradient>
<linearGradient id="r11" gradientUnits="userSpaceOnUse" x1="323.2" x2="588.4" y1="0" y2="0"><stop offset="0.0000" stop-color="#331b41"/><stop offset="0.2432" stop-color="#331b41"/><stop offset="0.2451" stop-color="#341f4c"/><stop offset="0.2489" stop-color="#3e3a93"/><stop offset="0.2508" stop-color="#4040a2"/><stop offset="0.2658" stop-color="#4249b1"/><stop offset="0.2677" stop-color="#424bb5"/><stop offset="0.2696" stop-color="#4456c7"/><stop offset="0.2715" stop-color="#477bf2"/><stop offset="0.2734" stop-color="#1fc9dd"/><stop offset="0.2753" stop-color="#8fff49"/><stop offset="0.2771" stop-color="#f5c53a"/><stop offset="0.2790" stop-color="#fe9b2d"/><stop offset="0.2809" stop-color="#fea732"/><stop offset="0.2828" stop-color="#ebd339"/><stop offset="0.2847" stop-color="#9ffd3f"/><stop offset="0.2866" stop-color="#35f394"/><stop offset="0.2885" stop-color="#19e2bb"/><stop offset="0.2941" stop-color="#20c7df"/><stop offset="0.2979" stop-color="#1ccdd8"/><stop offset="0.2998" stop-color="#1fe9af"/><stop offset="0.3017" stop-color="#99fe42"/><stop offset="0.3035" stop-color="#d43305"/><stop offset="0.3054" stop-color="#7a0403"/><stop offset="0.3130" stop-color="#7a0403"/><stop offset="0.3149" stop-color="#f9751d"/><stop offset="0.3167" stop-color="#32f298"/><stop offset="0.3186" stop-color="#38a5fb"/><stop offset="0.3205" stop-color="#4685fa"/><stop offset="0.3243" stop-color="#4778f0"/><stop offset="0.3281" stop-color="#455ed3"/><stop offset="0.3318" stop-color="#4559cb"/><stop offset="0.3394" stop-color="#4664da"/><stop offset="0.3431" stop-color="#4669e0"/><stop offset="0.3544" stop-color="#4666dd"/><stop offset="0.3582" stop-color="#4661d6"/><stop offset="0.3620" stop-color="#467df4"/><stop offset="0.3695" stop-color="#4682f8"/><stop offset="0.3714" stop-color="#4680f6"/><stop offset="0.3752" stop-color="#4669e0"/><stop offset="0.3790" stop-color="#4664da"/><stop offset="0.3884" stop-color="#4664da"/><stop offset="0.3903" stop-color="#4776ee"/><stop offset="0.3922" stop-color="#3aa3fc"/><stop offset="0.3940" stop-color="#18d9c8"/><stop offset="0.3959" stop-color="#43f787"/><stop offset="0.3978" stop-color="#88ff4e"/><stop offset="0.3997" stop-color="#9ffd3f"/><stop offset="0.4035" stop-color="#a4fc3c"/><stop offset="0.4054" stop-color="#92ff47"/><stop offset="0.4072" stop-color="#4af880"/><stop offset="0.4091" stop-color="#1ccdd8"/><stop offset="0.4110" stop-color="#448ffe"/><stop offset="0.4129" stop-color="#4661d6"/><stop offset="0.4148" stop-color="#3f3e9c"/><stop offset="0.4167" stop-color="#392b6b"/><stop offset="0.4186" stop-color="#341e4a"/><stop offset="0.4204" stop-color="#331b41"/><stop offset="0.6297" stop-color="#341c45"/><stop offset="0.6316" stop-color="#341f4c"/><stop offset="0.6335" stop-color="#37255c"/><stop offset="0.6354" stop-color="#3a3077"/><stop offset="0.6391" stop-color="#4451bf"/><stop offset="0.6410" stop-color="#455ed3"/><stop offset="0.6693" stop-color="#455ed3"/><stop offset="0.6712" stop-color="#4454c3"/><stop offset="0.6731" stop-color="#4143a7"/><stop offset="0.6750" stop-color="#3b327e"/><stop offset="0.6768" stop-color="#372760"/><stop offset="0.6787" stop-color="#382a68"/><stop offset="0.6806" stop-color="#4664da"/><stop offset="0.6825" stop-color="#1fe9af"/><stop offset="0.6844" stop-color="#fea130"/><stop offset="0.6863" stop-color="#8b0902"/><stop offset="0.6882" stop-color="#7a0403"/><stop offset="0.6919" stop-color="#7a0403"/><stop offset="0.6938" stop-color="#f66c19"/><stop offset="0.6957" stop-color="#52fa7a"/><stop offset="0.6976" stop-color="#4778f0"/><stop offset="0.6995" stop-color="#3a2f77"/><stop offset="0.7014" stop-color="#341e4a"/><stop offset="0.7051" stop-color="#331b41"/><stop offset="0.7862" stop-color="#331b41"/><stop offset="0.7881" stop-color="#341d46"/><stop offset="0.7900" stop-color="#37265e"/><stop offset="0.7919" stop-color="#3c3586"/><stop offset="0.7937" stop-color="#4040a2"/><stop offset="0.7975" stop-color="#4249b1"/><stop offset="0.8013" stop-color="#4669e0"/><stop offset="0.8032" stop-color="#4773eb"/><stop offset="0.8126" stop-color="#4771e9"/><stop offset="0.8164" stop-color="#4456c7"/><stop offset="0.8503" stop-color="#4454c3"/><stop offset="0.8522" stop-color="#27bee9"/><stop offset="0.8541" stop-color="#dde037"/><stop offset="0.8560" stop-color="#b41b01"/><stop offset="0.8578" stop-color="#7a0403"/><stop offset="0.8635" stop-color="#7a0403"/><stop offset="0.8654" stop-color="#d23105"/><stop offset="0.8673" stop-color="#affa37"/><stop offset="0.8692" stop-color="#3ba0fd"/><stop offset="0.8710" stop-color="#4771e9"/><stop offset="0.8748" stop-color="#4771e9"/><stop offset="0.8786" stop-color="#4454c3"/><stop offset="0.8805" stop-color="#434eba"/><stop offset="0.9050" stop-color="#434eba"/><stop offset="0.9069" stop-color="#4451bf"/><stop offset="0.9106" stop-color="#4664da"/><stop offset="0.9163" stop-color="#4664da"/><stop offset="0.9182" stop-color="#4559cb"/><stop offset="0.9201" stop-color="#3f3d9c"/><stop offset="0.9219" stop-color="#37265f"/><stop offset="0.9238" stop-color="#341c45"/><stop offset="0.9992" stop-color="#331b41"/></linearGradient>
<linearGradient id="r12" gradientUnits="userSpaceOnUse" x1="323.2" x2="588.4" y1="0" y2="0"><stop offset="0.0000" stop-color="#331b41"/><stop offset="0.2621" stop-color="#331b41"/><stop offset="0.2640" stop-color="#341e49"/><stop offset="0.2658" stop-color="#392c6d"/><stop offset="0.2677" stop-color="#4146ac"/><stop offset="0.2696" stop-color="#4666dd"/><stop offset="0.2715" stop-color="#467df4"/><stop offset="0.2734" stop-color="#4391fe"/><stop offset="0.2771" stop-color="#2eb4f2"/><stop offset="0.2809" stop-color="#28bceb"/><stop offset="0.2922" stop-color="#2cb7f0"/><stop offset="0.2960" stop-color="#3ba0fd"/><stop offset="0.2979" stop-color="#1ccdd8"/><stop offset="0.2998" stop-color="#4af880"/><stop offset="0.3017" stop-color="#f9751d"/><stop offset="0.3035" stop-color="#7a0403"/><stop offset="0.3111" stop-color="#7a0403"/><stop offset="0.3130" stop-color="#8b0902"/><stop offset="0.3149" stop-color="#fdae35"/><stop offset="0.3167" stop-color="#18dbc5"/><stop offset="0.3186" stop-color="#4661d6"/><stop offset="0.3243" stop-color="#4143a7"/><stop offset="0.3281" stop-color="#3c3381"/><stop offset="0.3450" stop-color="#3b317c"/><stop offset="0.3639" stop-color="#3b327d"/><stop offset="0.3714" stop-color="#3e398f"/><stop offset="0.3846" stop-color="#3e3a93"/><stop offset="0.3865" stop-color="#4454c3"/><stop offset="0.3884" stop-color="#33adf7"/><stop offset="0.3903" stop-color="#b4f836"/><stop offset="0.3922" stop-color="#c52603"/><stop offset="0.3940" stop-color="#7a0403"/><stop offset="0.4072" stop-color="#7a0403"/><stop offset="0.4091" stop-color="#e4450a"/><stop offset="0.4110" stop-color="#75fe5c"/><stop offset="0.4129" stop-color="#467df4"/><stop offset="0.4148" stop-color="#3a3077"/><stop offset="0.4167" stop-color="#341f4b"/><stop offset="0.4186" stop-color="#331b42"/><stop offset="0.6278" stop-color="#331c43"/><stop offset="0.6316" stop-color="#35204e"/><stop offset="0.6354" stop-color="#392d70"/><stop offset="0.6391" stop-color="#3e3a92"/><stop offset="0.6693" stop-color="#3e3a94"/><stop offset="0.6731" stop-color="#3a2e74"/><stop offset="0.6768" stop-color="#352151"/><stop offset="0.6787" stop-color="#3a2f77"/><stop offset="0.6806" stop-color="#4778f0"/><stop offset="0.6825" stop-color="#52fa7a"/><stop offset="0.6844" stop-color="#f66c19"/><stop offset="0.6863" stop-color="#7a0403"/><stop offset="0.6900" stop-color="#7a0403"/><stop offset="0.6919" stop-color="#8b0902"/><stop offset="0.6938" stop-color="#fea130"/><stop offset="0.6957" stop-color="#1fe9af"/><stop offset="0.6976" stop-color="#4664da"/><stop offset="0.6995" stop-color="#382a68"/><stop offset="0.7014" stop-color="#341d47"/><stop offset="0.7089" stop-color="#331b41"/><stop offset="0.7824" stop-color="#331b42"/><stop offset="0.7881" stop-color="#37265f"/><stop offset="0.7956" stop-color="#3d378a"/><stop offset="0.8333" stop-color="#3d378a"/><stop offset="0.8390" stop-color="#392c6e"/><stop offset="0.8446" stop-color="#341e4a"/><stop offset="0.8465" stop-color="#341f4c"/><stop offset="0.8484" stop-color="#3c3380"/><stop offset="0.8503" stop-color="#4685fa"/><stop offset="0.8522" stop-color="#71fe5f"/><stop offset="0.8541" stop-color="#ec530f"/><stop offset="0.8560" stop-color="#7a0403"/><stop offset="0.8616" stop-color="#7a0403"/><stop offset="0.8635" stop-color="#ec530f"/><stop offset="0.8654" stop-color="#71fe5f"/><stop offset="0.8673" stop-color="#4685fa"/><stop offset="0.8692" stop-color="#3c3380"/><stop offset="0.8710" stop-color="#341f4c"/><stop offset="0.8729" stop-color="#331b42"/><stop offset="0.8956" stop-color="#331c43"/><stop offset="0.8974" stop-color="#341e4a"/><stop offset="0.8993" stop-color="#382864"/><stop offset="0.9012" stop-color="#4143a7"/><stop offset="0.9031" stop-color="#4778f0"/><stop offset="0.9050" stop-color="#31aff5"/><stop offset="0.9069" stop-color="#20c7df"/><stop offset="0.9087" stop-color="#31aff5"/><stop offset="0.9106" stop-color="#4778f0"/><stop offset="0.9125" stop-color="#4143a7"/><stop offset="0.9144" stop-color="#382864"/><stop offset="0.9163" stop-color="#341e4a"/><stop offset="0.9201" stop-color="#331b41"/><stop offset="0.9992" stop-color="#331b41"/></linearGradient>
<linearGradient id="r13" gradientUnits="userSpaceOnUse" x1="323.2" x2="588.4" y1="0" y2="0"><stop offset="0.0000" stop-color="#331b41"/><stop offset="0.2602" stop-color="#331b42"/><stop offset="0.2621" stop-color="#341e4a"/><stop offset="0.2658" stop-color="#392b6a"/><stop offset="0.2809" stop-color="#392c6f"/><stop offset="0.2941" stop-color="#392c6f"/><stop offset="0.2960" stop-color="#4456c7"/><stop offset="0.2979" stop-color="#1bd0d5"/><stop offset="0.2998" stop-color="#e7d739"/><stop offset="0.3017" stop-color="#b41b01"/><stop offset="0.3035" stop-color="#7a0403"/><stop offset="0.3092" stop-color="#7a0403"/><stop offset="0.3111" stop-color="#b41b01"/><stop offset="0.3130" stop-color="#e7d739"/><stop offset="0.3149" stop-color="#1bd0d5"/><stop offset="0.3167" stop-color="#4456c7"/><stop offset="0.3186" stop-color="#382863"/><stop offset="0.3337" stop-color="#37265d"/><stop offset="0.3865" stop-color="#362458"/><stop offset="0.3884" stop-color="#3e3b96"/><stop offset="0.3903" stop-color="#4196ff"/><stop offset="0.3922" stop-color="#8bff4b"/><stop offset="0.3940" stop-color="#ea4e0d"/><stop offset="0.3959" stop-color="#7a0403"/><stop offset="0.4035" stop-color="#7a0403"/><stop offset="0.4054" stop-color="#d23105"/><stop offset="0.4072" stop-color="#bef434"/><stop offset="0.4091" stop-color="#2fb2f4"/><stop offset="0.4110" stop-color="#4146ac"/><stop offset="0.4129" stop-color="#36245a"/><stop offset="0.4148" stop-color="#341c45"/><stop offset="0.6731" stop-color="#331c43"/><stop offset="0.6750" stop-color="#362254"/><stop offset="0.6768" stop-color="#4040a2"/><stop offset="0.6787" stop-color="#31aff5"/><stop offset="0.6806" stop-color="#c8ef34"/><stop offset="0.6825" stop-color="#c32503"/><stop offset="0.6844" stop-color="#7a0403"/><stop offset="0.6882" stop-color="#7a0403"/><stop offset="0.6900" stop-color="#f66c19"/><stop offset="0.6919" stop-color="#52fa7a"/><stop offset="0.6938" stop-color="#4778f0"/><stop offset="0.6957" stop-color="#3a2f77"/><stop offset="0.6976" stop-color="#341e4a"/><stop offset="0.7014" stop-color="#331b41"/><stop offset="0.8409" stop-color="#331b42"/><stop offset="0.8428" stop-color="#341e4a"/><stop offset="0.8446" stop-color="#3a2f77"/><stop offset="0.8465" stop-color="#4778f0"/><stop offset="0.8484" stop-color="#52fa7a"/><stop offset="0.8503" stop-color="#f66c19"/><stop offset="0.8522" stop-color="#7a0403"/><stop offset="0.8578" stop-color="#7a0403"/><stop offset="0.8597" stop-color="#e14109"/><stop offset="0.8616" stop-color="#96fe44"/><stop offset="0.8635" stop-color="#4391fe"/><stop offset="0.8654" stop-color="#3d378b"/><stop offset="0.8673" stop-color="#35204e"/><stop offset="0.8692" stop-color="#331c43"/><stop offset="0.8937" stop-color="#331b42"/><stop offset="0.8956" stop-color="#341d46"/><stop offset="0.8974" stop-color="#362458"/><stop offset="0.8993" stop-color="#3d388e"/><stop offset="0.9012" stop-color="#4669e0"/><stop offset="0.9031" stop-color="#37a8fa"/><stop offset="0.9050" stop-color="#1ad2d2"/><stop offset="0.9069" stop-color="#1ccdd8"/><stop offset="0.9087" stop-color="#3e9bfe"/><stop offset="0.9106" stop-color="#455ed3"/><stop offset="0.9125" stop-color="#3b327f"/><stop offset="0.9144" stop-color="#352252"/><stop offset="0.9163" stop-color="#331c45"/><stop offset="0.9992" stop-color="#331b41"/></linearGradient>
<linearGradient id="r14" gradientUnits="userSpaceOnUse" x1="323.2" x2="588.4" y1="0" y2="0"><stop offset="0.0000" stop-color="#331b41"/><stop offset="0.2677" stop-color="#331b42"/><stop offset="0.2715" stop-color="#362357"/><stop offset="0.2734" stop-color="#382863"/><stop offset="0.2922" stop-color="#382967"/><stop offset="0.2941" stop-color="#392d70"/><stop offset="0.2960" stop-color="#4669e0"/><stop offset="0.2979" stop-color="#1fe9af"/><stop offset="0.2998" stop-color="#fdae35"/><stop offset="0.3017" stop-color="#9b0f01"/><stop offset="0.3035" stop-color="#7a0403"/><stop offset="0.3073" stop-color="#7a0403"/><stop offset="0.3092" stop-color="#d23105"/><stop offset="0.3111" stop-color="#bef434"/><stop offset="0.3130" stop-color="#2fb2f4"/><stop offset="0.3149" stop-color="#4146ac"/><stop offset="0.3167" stop-color="#382966"/><stop offset="0.3827" stop-color="#36245a"/><stop offset="0.3846" stop-color="#37265e"/><stop offset="0.3865" stop-color="#434eba"/><stop offset="0.3884" stop-color="#23c3e4"/><stop offset="0.3903" stop-color="#d4e735"/><stop offset="0.3922" stop-color="#c32503"/><stop offset="0.3940" stop-color="#7a0403"/><stop offset="0.4016" stop-color="#7a0403"/><stop offset="0.4035" stop-color="#c32503"/><stop offset="0.4054" stop-color="#d4e735"/><stop offset="0.4072" stop-color="#23c3e4"/><stop offset="0.4091" stop-color="#434eba"/><stop offset="0.4110" stop-color="#37265e"/><stop offset="0.4129" stop-color="#341d46"/><stop offset="0.4393" stop-color="#331b41"/><stop offset="0.6693" stop-color="#331c44"/><stop offset="0.6712" stop-color="#362458"/><stop offset="0.6731" stop-color="#4249b1"/><stop offset="0.6750" stop-color="#27bee9"/><stop offset="0.6768" stop-color="#dde037"/><stop offset="0.6787" stop-color="#b41b01"/><stop offset="0.6806" stop-color="#7a0403"/><stop offset="0.6844" stop-color="#810602"/><stop offset="0.6863" stop-color="#fc8725"/><stop offset="0.6882" stop-color="#32f298"/><stop offset="0.6900" stop-color="#476ee6"/><stop offset="0.6919" stop-color="#392c6f"/><stop offset="0.6938" stop-color="#341e48"/><stop offset="0.6976" stop-color="#331b41"/><stop offset="0.8352" stop-color="#331b42"/><stop offset="0.8371" stop-color="#341d47"/><stop offset="0.8390" stop-color="#382a68"/><stop offset="0.8409" stop-color="#4664da"/><stop offset="0.8428" stop-color="#1fe9af"/><stop offset="0.8446" stop-color="#fea130"/><stop offset="0.8465" stop-color="#8b0902"/><stop offset="0.8484" stop-color="#7a0403"/><stop offset="0.8522" stop-color="#7a0403"/><stop offset="0.8541" stop-color="#c32503"/><stop offset="0.8560" stop-color="#c8ef34"/><stop offset="0.8578" stop-color="#31aff5"/><stop offset="0.8597" stop-color="#4040a2"/><stop offset="0.8616" stop-color="#362254"/><stop offset="0.8635" stop-color="#331c43"/><stop offset="0.8899" stop-color="#331b42"/><stop offset="0.8918" stop-color="#341d47"/><stop offset="0.8937" stop-color="#37265d"/><stop offset="0.8956" stop-color="#4143a7"/><stop offset="0.8974" stop-color="#4196ff"/><stop offset="0.8993" stop-color="#3ff68a"/><stop offset="0.9012" stop-color="#dbe236"/><stop offset="0.9031" stop-color="#f5c53a"/><stop offset="0.9050" stop-color="#b1f936"/><stop offset="0.9069" stop-color="#18d9c8"/><stop offset="0.9087" stop-color="#4771e9"/><stop offset="0.9106" stop-color="#3c3482"/><stop offset="0.9125" stop-color="#352150"/><stop offset="0.9144" stop-color="#331c44"/><stop offset="0.9992" stop-color="#331b41"/></linearGradient>
<linearGradient id="r15" gradientUnits="userSpaceOnUse" x1="323.2" x2="588.4" y1="0" y2="0"><stop offset="0.0000" stop-color="#331b41"/><stop offset="0.2734" stop-color="#331b42"/><stop offset="0.2828" stop-color="#392c6d"/><stop offset="0.2885" stop-color="#392c6f"/><stop offset="0.2903" stop-color="#4146ac"/><stop offset="0.2922" stop-color="#2fb2f4"/><stop offset="0.2941" stop-color="#bef434"/><stop offset="0.2960" stop-color="#d23105"/><stop offset="0.2979" stop-color="#7a0403"/><stop offset="0.3054" stop-color="#7a0403"/><stop offset="0.3073" stop-color="#ea4e0d"/><stop offset="0.3092" stop-color="#8bff4b"/><stop offset="0.3111" stop-color="#4196ff"/><stop offset="0.3130" stop-color="#3e3b96"/><stop offset="0.3149" stop-color="#352252"/><stop offset="0.3167" stop-color="#331c44"/><stop offset="0.3771" stop-color="#331b42"/><stop offset="0.3790" stop-color="#341d47"/><stop offset="0.3808" stop-color="#382863"/><stop offset="0.3827" stop-color="#4456c7"/><stop offset="0.3846" stop-color="#1bd0d5"/><stop offset="0.3865" stop-color="#e7d739"/><stop offset="0.3884" stop-color="#b41b01"/><stop offset="0.3903" stop-color="#7a0403"/><stop offset="0.3978" stop-color="#7a0403"/><stop offset="0.3997" stop-color="#d23105"/><stop offset="0.4016" stop-color="#bef434"/><stop offset="0.4035" stop-color="#2fb2f4"/><stop offset="0.4054" stop-color="#4146ac"/><stop offset="0.4072" stop-color="#36245a"/><stop offset="0.4091" stop-color="#341c45"/><stop offset="0.6618" stop-color="#331b41"/><stop offset="0.6637" stop-color="#341d46"/><stop offset="0.6655" stop-color="#372762"/><stop offset="0.6674" stop-color="#4559cb"/><stop offset="0.6693" stop-color="#18ddc2"/><stop offset="0.6712" stop-color="#fbb838"/><stop offset="0.6731" stop-color="#980e01"/><stop offset="0.6750" stop-color="#7a0403"/><stop offset="0.6787" stop-color="#7a0403"/><stop offset="0.6806" stop-color="#810602"/><stop offset="0.6825" stop-color="#fc8725"/><stop offset="0.6844" stop-color="#32f298"/><stop offset="0.6863" stop-color="#476ee6"/><stop offset="0.6882" stop-color="#392c6f"/><stop offset="0.6900" stop-color="#341e48"/><stop offset="0.6938" stop-color="#331b41"/><stop offset="0.8296" stop-color="#331c43"/><stop offset="0.8314" stop-color="#35204e"/><stop offset="0.8333" stop-color="#3d378b"/><stop offset="0.8352" stop-color="#4391fe"/><stop offset="0.8371" stop-color="#96fe44"/><stop offset="0.8390" stop-color="#e14109"/><stop offset="0.8409" stop-color="#7a0403"/><stop offset="0.8465" stop-color="#7a0403"/><stop offset="0.8484" stop-color="#8b0902"/><stop offset="0.8503" stop-color="#fea130"/><stop offset="0.8522" stop-color="#1fe9af"/><stop offset="0.8541" stop-color="#4664da"/><stop offset="0.8560" stop-color="#382a68"/><stop offset="0.8578" stop-color="#341d47"/><stop offset="0.8654" stop-color="#331b41"/><stop offset="0.8842" stop-color="#331c43"/><stop offset="0.8861" stop-color="#362254"/><stop offset="0.8880" stop-color="#424bb5"/><stop offset="0.8899" stop-color="#18dbc5"/><stop offset="0.8918" stop-color="#fe992c"/><stop offset="0.8937" stop-color="#7e0502"/><stop offset="0.8974" stop-color="#7a0403"/><stop offset="0.8993" stop-color="#d43305"/><stop offset="0.9012" stop-color="#80ff53"/><stop offset="0.9031" stop-color="#4778f0"/><stop offset="0.9050" stop-color="#392b6c"/><stop offset="0.9069" stop-color="#341d46"/><stop offset="0.9219" stop-color="#331b41"/><stop offset="0.9992" stop-color="#331b41"/></linearGradient>
<linearGradient id="r16" gradientUnits="userSpaceOnUse" x1="323.2" x2="588.4" y1="0" y2="0"><stop offset="0.0000" stop-color="#331b41"/><stop offset="0.2734" stop-color="#331b42"/><stop offset="0.2828" stop-color="#392c6d"/><stop offset="0.2866" stop-color="#392c6f"/><stop offset="0.2885" stop-color="#434eba"/><stop offset="0.2903" stop-color="#23c3e4"/><stop offset="0.2922" stop-color="#d4e735"/><stop offset="0.2941" stop-color="#c32503"/><stop offset="0.2960" stop-color="#7a0403"/><stop offset="0.3017" stop-color="#7a0403"/><stop offset="0.3035" stop-color="#df3f08"/><stop offset="0.3054" stop-color="#a7fc3a"/><stop offset="0.3073" stop-color="#3aa3fc"/><stop offset="0.3092" stop-color="#4040a2"/><stop offset="0.3111" stop-color="#362356"/><stop offset="0.3130" stop-color="#331c44"/><stop offset="0.3771" stop-color="#331b42"/><stop offset="0.3790" stop-color="#341e49"/><stop offset="0.3808" stop-color="#392d70"/><stop offset="0.3827" stop-color="#4669e0"/><stop offset="0.3846" stop-color="#1fe9af"/><stop offset="0.3865" stop-color="#fdae35"/><stop offset="0.3884" stop-color="#9b0f01"/><stop offset="0.3903" stop-color="#7a0403"/><stop offset="0.3922" stop-color="#7a0403"/><stop offset="0.3940" stop-color="#9b0f01"/><stop offset="0.3959" stop-color="#fdae35"/><stop offset="0.3978" stop-color="#1fe9af"/><stop offset="0.3997" stop-color="#4669e0"/><stop offset="0.4016" stop-color="#392d70"/><stop offset="0.4035" stop-color="#341e49"/><stop offset="0.4072" stop-color="#331b41"/><stop offset="0.6599" stop-color="#331c44"/><stop offset="0.6618" stop-color="#35204f"/><stop offset="0.6637" stop-color="#3a2f76"/><stop offset="0.6655" stop-color="#455ed3"/><stop offset="0.6674" stop-color="#25c0e7"/><stop offset="0.6693" stop-color="#99fe42"/><stop offset="0.6712" stop-color="#fea130"/><stop offset="0.6731" stop-color="#f05b12"/><stop offset="0.6750" stop-color="#fea130"/><stop offset="0.6768" stop-color="#99fe42"/><stop offset="0.6787" stop-color="#25c0e7"/><stop offset="0.6806" stop-color="#455ed3"/><stop offset="0.6825" stop-color="#3a2f76"/><stop offset="0.6844" stop-color="#35204f"/><stop offset="0.6863" stop-color="#331c44"/><stop offset="0.8239" stop-color="#331b42"/><stop offset="0.8258" stop-color="#341d46"/><stop offset="0.8277" stop-color="#362356"/><stop offset="0.8296" stop-color="#3d3688"/><stop offset="0.8314" stop-color="#466be3"/><stop offset="0.8333" stop-color="#1bd0d5"/><stop offset="0.8352" stop-color="#b4f836"/><stop offset="0.8371" stop-color="#f66c19"/><stop offset="0.8390" stop-color="#ac1701"/><stop offset="0.8409" stop-color="#b91e02"/><stop offset="0.8428" stop-color="#fe9029"/><stop offset="0.8446" stop-color="#8bff4b"/><stop offset="0.8465" stop-color="#2ab9ee"/><stop offset="0.8484" stop-color="#455ed3"/><stop offset="0.8503" stop-color="#3b307a"/><stop offset="0.8522" stop-color="#352151"/><stop offset="0.8541" stop-color="#331c45"/><stop offset="0.8805" stop-color="#331c43"/><stop offset="0.8824" stop-color="#35204d"/><stop offset="0.8842" stop-color="#392c6f"/><stop offset="0.8861" stop-color="#434eba"/><stop offset="0.8880" stop-color="#4687fb"/><stop offset="0.8899" stop-color="#28bceb"/><stop offset="0.8918" stop-color="#1ecbda"/><stop offset="0.8937" stop-color="#35abf8"/><stop offset="0.8956" stop-color="#476ee6"/><stop offset="0.8974" stop-color="#3f3c99"/><stop offset="0.8993" stop-color="#37265d"/><stop offset="0.9012" stop-color="#341d48"/><stop offset="0.9087" stop-color="#331b41"/><stop offset="0.9992" stop-color="#331b41"/></linearGradient>
<linearGradient id="r17" gradientUnits="userSpaceOnUse" x1="323.2" x2="588.4" y1="0" y2="0"><stop offset="0.0000" stop-color="#331b41"/><stop offset="0.2809" stop-color="#331c44"/><stop offset="0.2828" stop-color="#352252"/><stop offset="0.2847" stop-color="#3e3b96"/><stop offset="0.2866" stop-color="#4196ff"/><stop offset="0.2885" stop-color="#8bff4b"/><stop offset="0.2903" stop-color="#ea4e0d"/><stop offset="0.2922" stop-color="#7a0403"/><stop offset="0.2998" stop-color="#7a0403"/><stop offset="0.3017" stop-color="#9b0f01"/><stop offset="0.3035" stop-color="#fdae35"/><stop offset="0.3054" stop-color="#1fe9af"/><stop offset="0.3073" stop-color="#4669e0"/><stop offset="0.3092" stop-color="#392d70"/><stop offset="0.3111" stop-color="#341e49"/><stop offset="0.3149" stop-color="#331b41"/><stop offset="0.3733" stop-color="#331b42"/><stop offset="0.3752" stop-color="#341d47"/><stop offset="0.3771" stop-color="#382863"/><stop offset="0.3790" stop-color="#4456c7"/><stop offset="0.3808" stop-color="#1bd0d5"/><stop offset="0.3827" stop-color="#e7d739"/><stop offset="0.3846" stop-color="#b41b01"/><stop offset="0.3865" stop-color="#7a0403"/><stop offset="0.3903" stop-color="#7a0403"/><stop offset="0.3922" stop-color="#ea4e0d"/><stop offset="0.3940" stop-color="#8bff4b"/><stop offset="0.3959" stop-color="#4196ff"/><stop offset="0.3978" stop-color="#3e3b96"/><stop offset="0.3997" stop-color="#352252"/><stop offset="0.4016" stop-color="#331c44"/><stop offset="0.6580" stop-color="#331c44"/><stop offset="0.6599" stop-color="#352150"/><stop offset="0.6618" stop-color="#3b317b"/><stop offset="0.6637" stop-color="#4661d6"/><stop offset="0.6655" stop-color="#27bee9"/><stop offset="0.6674" stop-color="#7dff56"/><stop offset="0.6693" stop-color="#eecf3a"/><stop offset="0.6712" stop-color="#fcb336"/><stop offset="0.6731" stop-color="#d0ea34"/><stop offset="0.6750" stop-color="#2ff19b"/><stop offset="0.6768" stop-color="#4294ff"/><stop offset="0.6787" stop-color="#4249b1"/><stop offset="0.6806" stop-color="#382864"/><stop offset="0.6825" stop-color="#341e49"/><stop offset="0.6863" stop-color="#331b41"/><stop offset="0.8201" stop-color="#331b42"/><stop offset="0.8220" stop-color="#341d46"/><stop offset="0.8239" stop-color="#362356"/><stop offset="0.8258" stop-color="#3d3688"/><stop offset="0.8277" stop-color="#466be3"/><stop offset="0.8296" stop-color="#1bd0d5"/><stop offset="0.8314" stop-color="#b4f836"/><stop offset="0.8333" stop-color="#f66c19"/><stop offset="0.8352" stop-color="#ac1701"/><stop offset="0.8371" stop-color="#b91e02"/><stop offset="0.8390" stop-color="#fe9029"/><stop offset="0.8409" stop-color="#8bff4b"/><stop offset="0.8428" stop-color="#2ab9ee"/><stop offset="0.8446" stop-color="#455ed3"/><stop offset="0.8465" stop-color="#3b307a"/><stop offset="0.8484" stop-color="#352151"/><stop offset="0.8503" stop-color="#331c45"/><stop offset="0.8767" stop-color="#331b42"/><stop offset="0.8786" stop-color="#341e48"/><stop offset="0.8805" stop-color="#37265f"/><stop offset="0.8824" stop-color="#3f3e9c"/><stop offset="0.8842" stop-color="#4776ee"/><stop offset="0.8861" stop-color="#2eb4f2"/><stop offset="0.8880" stop-color="#19d5cd"/><stop offset="0.8899" stop-color="#20c7df"/><stop offset="0.8918" stop-color="#448ffe"/><stop offset="0.8937" stop-color="#4451bf"/><stop offset="0.8956" stop-color="#3a2e72"/><stop offset="0.8974" stop-color="#35204e"/><stop offset="0.8993" stop-color="#331c44"/><stop offset="0.9992" stop-color="#331b41"/></linearGradient>
<linearGradient id="r18" gradientUnits="userSpaceOnUse" x1="323.2" x2="588.4" y1="0" y2="0"><stop offset="0.0000" stop-color="#331b41"/><stop offset="0.2809" stop-color="#341c45"/><stop offset="0.2828" stop-color="#36245a"/><stop offset="0.2847" stop-color="#4146ac"/><stop offset="0.2866" stop-color="#2fb2f4"/><stop offset="0.2885" stop-color="#bef434"/><stop offset="0.2903" stop-color="#d23105"/><stop offset="0.2922" stop-color="#7a0403"/><stop offset="0.2998" stop-color="#7a0403"/><stop offset="0.3017" stop-color="#b41b01"/><stop offset="0.3035" stop-color="#e7d739"/><stop offset="0.3054" stop-color="#1bd0d5"/><stop offset="0.3073" stop-color="#4456c7"/><stop offset="0.3092" stop-color="#382863"/><stop offset="0.3111" stop-color="#341d47"/><stop offset="0.3205" stop-color="#331b41"/><stop offset="0.3733" stop-color="#331c42"/><stop offset="0.3752" stop-color="#341f4b"/><stop offset="0.3771" stop-color="#3a3078"/><stop offset="0.3790" stop-color="#4773eb"/><stop offset="0.3808" stop-color="#2ff19b"/><stop offset="0.3827" stop-color="#fe992c"/><stop offset="0.3846" stop-color="#8e0a01"/><stop offset="0.3865" stop-color="#7a0403"/><stop offset="0.3884" stop-color="#7a0403"/><stop offset="0.3903" stop-color="#a71401"/><stop offset="0.3922" stop-color="#f6c33a"/><stop offset="0.3940" stop-color="#18ddc2"/><stop offset="0.3959" stop-color="#455ed3"/><stop offset="0.3978" stop-color="#382a69"/><stop offset="0.3997" stop-color="#341e48"/><stop offset="0.4054" stop-color="#331b41"/><stop offset="0.6561" stop-color="#331b42"/><stop offset="0.6580" stop-color="#341d47"/><stop offset="0.6599" stop-color="#36245a"/><stop offset="0.6618" stop-color="#3f3c98"/><stop offset="0.6637" stop-color="#467df4"/><stop offset="0.6655" stop-color="#19e3b9"/><stop offset="0.6674" stop-color="#c1f334"/><stop offset="0.6693" stop-color="#fea732"/><stop offset="0.6712" stop-color="#fea732"/><stop offset="0.6731" stop-color="#c1f334"/><stop offset="0.6750" stop-color="#19e3b9"/><stop offset="0.6768" stop-color="#467df4"/><stop offset="0.6787" stop-color="#3f3c98"/><stop offset="0.6806" stop-color="#36245a"/><stop offset="0.6825" stop-color="#341d47"/><stop offset="0.6957" stop-color="#331b41"/><stop offset="0.8220" stop-color="#331c43"/><stop offset="0.8239" stop-color="#362254"/><stop offset="0.8258" stop-color="#4040a2"/><stop offset="0.8277" stop-color="#31aff5"/><stop offset="0.8296" stop-color="#c8ef34"/><stop offset="0.8314" stop-color="#c32503"/><stop offset="0.8333" stop-color="#7a0403"/><stop offset="0.8390" stop-color="#7a0403"/><stop offset="0.8409" stop-color="#a41301"/><stop offset="0.8428" stop-color="#efcd3a"/><stop offset="0.8446" stop-color="#1ccdd8"/><stop offset="0.8465" stop-color="#4451bf"/><stop offset="0.8484" stop-color="#37255c"/><stop offset="0.8503" stop-color="#341c45"/><stop offset="0.8748" stop-color="#331b42"/><stop offset="0.8767" stop-color="#341e48"/><stop offset="0.8786" stop-color="#382864"/><stop offset="0.8805" stop-color="#424bb5"/><stop offset="0.8824" stop-color="#3aa3fc"/><stop offset="0.8842" stop-color="#4af880"/><stop offset="0.8861" stop-color="#d0ea34"/><stop offset="0.8880" stop-color="#d9e436"/><stop offset="0.8899" stop-color="#71fe5f"/><stop offset="0.8918" stop-color="#2ab9ee"/><stop offset="0.8937" stop-color="#4559cb"/><stop offset="0.8956" stop-color="#392c6f"/><stop offset="0.8974" stop-color="#341f4b"/><stop offset="0.9012" stop-color="#331b41"/><stop offset="0.9992" stop-color="#331b41"/></linearGradient>
<linearGradient id="r19" gradientUnits="userSpaceOnUse" x1="323.2" x2="588.4" y1="0" y2="0"><stop offset="0.0000" stop-color="#331b41"/><stop offset="0.2790" stop-color="#331b42"/><stop offset="0.2809" stop-color="#341d46"/><stop offset="0.2828" stop-color="#37265e"/><stop offset="0.2847" stop-color="#434eba"/><stop offset="0.2866" stop-color="#23c3e4"/><stop offset="0.2885" stop-color="#d4e735"/><stop offset="0.2903" stop-color="#c32503"/><stop offset="0.2922" stop-color="#7a0403"/><stop offset="0.2998" stop-color="#7a0403"/><stop offset="0.3017" stop-color="#c32503"/><stop offset="0.3035" stop-color="#d4e735"/><stop offset="0.3054" stop-color="#23c3e4"/><stop offset="0.3073" stop-color="#434eba"/><stop offset="0.3092" stop-color="#37265e"/><stop offset="0.3111" stop-color="#341d46"/><stop offset="0.3375" stop-color="#331b41"/><stop offset="0.3733" stop-color="#341d45"/><stop offset="0.3752" stop-color="#362357"/><stop offset="0.3771" stop-color="#3e3a92"/><stop offset="0.3790" stop-color="#4680f6"/><stop offset="0.3808" stop-color="#25eca7"/><stop offset="0.3827" stop-color="#f1cb3a"/><stop offset="0.3846" stop-color="#d02f05"/><stop offset="0.3865" stop-color="#a71401"/><stop offset="0.3884" stop-color="#f15d13"/><stop offset="0.3903" stop-color="#affa37"/><stop offset="0.3922" stop-color="#23c3e4"/><stop offset="0.3940" stop-color="#455ccf"/><stop offset="0.3959" stop-color="#3a2e72"/><stop offset="0.3978" stop-color="#351f4d"/><stop offset="0.4016" stop-color="#331b41"/><stop offset="0.6561" stop-color="#331c43"/><stop offset="0.6580" stop-color="#341e4a"/><stop offset="0.6599" stop-color="#382a68"/><stop offset="0.6618" stop-color="#434eba"/><stop offset="0.6637" stop-color="#3ba0fd"/><stop offset="0.6655" stop-color="#43f787"/><stop offset="0.6674" stop-color="#d0ea34"/><stop offset="0.6693" stop-color="#e9d539"/><stop offset="0.6712" stop-color="#a9fb39"/><stop offset="0.6731" stop-color="#18dec0"/><stop offset="0.6750" stop-color="#477bf2"/><stop offset="0.6768" stop-color="#3e3a93"/><stop offset="0.6787" stop-color="#362357"/><stop offset="0.6806" stop-color="#341d46"/><stop offset="0.7127" stop-color="#331b41"/><stop offset="0.8220" stop-color="#331c43"/><stop offset="0.8239" stop-color="#362254"/><stop offset="0.8258" stop-color="#4040a2"/><stop offset="0.8277" stop-color="#31aff5"/><stop offset="0.8296" stop-color="#c8ef34"/><stop offset="0.8314" stop-color="#c32503"/><stop offset="0.8333" stop-color="#7a0403"/><stop offset="0.8352" stop-color="#7a0403"/><stop offset="0.8371" stop-color="#a41301"/><stop offset="0.8390" stop-color="#efcd3a"/><stop offset="0.8409" stop-color="#1ccdd8"/><stop offset="0.8428" stop-color="#4451bf"/><stop offset="0.8446" stop-color="#37255c"/><stop offset="0.8465" stop-color="#341c45"/><stop offset="0.8729" stop-color="#331b42"/><stop offset="0.8748" stop-color="#341d47"/><stop offset="0.8767" stop-color="#37255d"/><stop offset="0.8786" stop-color="#3f3e9c"/><stop offset="0.8805" stop-color="#4778f0"/><stop offset="0.8824" stop-color="#22c5e2"/><stop offset="0.8842" stop-color="#20eaac"/><stop offset="0.8861" stop-color="#1de7b2"/><stop offset="0.8880" stop-color="#2cb7f0"/><stop offset="0.8899" stop-color="#466be3"/><stop offset="0.8918" stop-color="#3d378b"/><stop offset="0.8937" stop-color="#362356"/><stop offset="0.8956" stop-color="#341d45"/><stop offset="0.9578" stop-color="#331b41"/><stop offset="0.9992" stop-color="#331b41"/></linearGradient>
<linearGradient id="r20" gradientUnits="userSpaceOnUse" x1="323.2" x2="588.4" y1="0" y2="0"><stop offset="0.0000" stop-color="#331b41"/><stop offset="0.2790" stop-color="#331c43"/><stop offset="0.2809" stop-color="#35204d"/><stop offset="0.2828" stop-color="#3c3381"/><stop offset="0.2847" stop-color="#467df4"/><stop offset="0.2866" stop-color="#4af880"/><stop offset="0.2885" stop-color="#fb7e21"/><stop offset="0.2903" stop-color="#850702"/><stop offset="0.2922" stop-color="#7a0403"/><stop offset="0.2960" stop-color="#7a0403"/><stop offset="0.2979" stop-color="#ea4e0d"/><stop offset="0.2998" stop-color="#8bff4b"/><stop offset="0.3017" stop-color="#4196ff"/><stop offset="0.3035" stop-color="#3e3b96"/><stop offset="0.3054" stop-color="#352252"/><stop offset="0.3073" stop-color="#331c44"/><stop offset="0.3714" stop-color="#331c43"/><stop offset="0.3733" stop-color="#352150"/><stop offset="0.3752" stop-color="#3d378b"/><stop offset="0.3771" stop-color="#458afc"/><stop offset="0.3790" stop-color="#6dfe62"/><stop offset="0.3808" stop-color="#f36315"/><stop offset="0.3827" stop-color="#7e0502"/><stop offset="0.3865" stop-color="#7e0502"/><stop offset="0.3884" stop-color="#f36315"/><stop offset="0.3903" stop-color="#6dfe62"/><stop offset="0.3922" stop-color="#458afc"/><stop offset="0.3940" stop-color="#3d378b"/><stop offset="0.3959" stop-color="#352150"/><stop offset="0.3978" stop-color="#331c43"/><stop offset="0.6505" stop-color="#331b42"/><stop offset="0.6523" stop-color="#341d45"/><stop offset="0.6542" stop-color="#362356"/><stop offset="0.6561" stop-color="#3e3990"/><stop offset="0.6580" stop-color="#477bf2"/><stop offset="0.6599" stop-color="#1fe9af"/><stop offset="0.6618" stop-color="#e9d539"/><stop offset="0.6637" stop-color="#dd3d08"/><stop offset="0.6655" stop-color="#b91e02"/><stop offset="0.6674" stop-color="#f8721c"/><stop offset="0.6693" stop-color="#a4fc3c"/><stop offset="0.6712" stop-color="#27bee9"/><stop offset="0.6731" stop-color="#4559cb"/><stop offset="0.6750" stop-color="#392d71"/><stop offset="0.6768" stop-color="#351f4c"/><stop offset="0.6806" stop-color="#331b41"/><stop offset="0.8126" stop-color="#331c43"/><stop offset="0.8145" stop-color="#341e4a"/><stop offset="0.8164" stop-color="#37265e"/><stop offset="0.8183" stop-color="#3e3b96"/><stop offset="0.8201" stop-color="#4771e9"/><stop offset="0.8220" stop-color="#1fc9dd"/><stop offset="0.8239" stop-color="#8fff49"/><stop offset="0.8258" stop-color="#fcb136"/><stop offset="0.8277" stop-color="#e84b0c"/><stop offset="0.8296" stop-color="#e2430a"/><stop offset="0.8314" stop-color="#fe992c"/><stop offset="0.8333" stop-color="#acfb38"/><stop offset="0.8352" stop-color="#18dbc5"/><stop offset="0.8371" stop-color="#4680f6"/><stop offset="0.8390" stop-color="#4143a7"/><stop offset="0.8409" stop-color="#382966"/><stop offset="0.8428" stop-color="#351f4c"/><stop offset="0.8465" stop-color="#331b42"/><stop offset="0.8692" stop-color="#331c43"/><stop offset="0.8710" stop-color="#341f4b"/><stop offset="0.8729" stop-color="#382a68"/><stop offset="0.8748" stop-color="#4249b1"/><stop offset="0.8767" stop-color="#4682f8"/><stop offset="0.8786" stop-color="#27bee9"/><stop offset="0.8805" stop-color="#19d5cd"/><stop offset="0.8824" stop-color="#27bee9"/><stop offset="0.8842" stop-color="#4682f8"/><stop offset="0.8861" stop-color="#4249b1"/><stop offset="0.8880" stop-color="#382a68"/><stop offset="0.8899" stop-color="#341f4b"/><stop offset="0.8937" stop-color="#331b41"/><stop offset="0.9992" stop-color="#331b41"/></linearGradient>
<linearGradient id="cb" x1="0" y1="0" x2="0" y2="1">
<stop offset="0" stop-color="#7a0a0a"/><stop offset="0.2" stop-color="#6e4a26"/><stop offset="0.43" stop-color="#4fd98a"/><stop offset="0.5" stop-color="#45dc96"/><stop offset="0.76" stop-color="#4672e6"/><stop offset="1" stop-color="#2e143c"/>
</linearGradient>
<filter id="nf" x="0" y="0" width="685" height="288" filterUnits="userSpaceOnUse" color-interpolation-filters="sRGB"><feOffset dx="0" dy="0"/></filter></defs>
<rect width="685" height="288" fill="#fff"/>
<rect x="323.2" y="32.60" width="265.2" height="213.00" fill="#331b41"/>
<rect x="323.2" y="32.60" width="265.2" height="10.74" fill="url(#r0)"/>
<rect x="323.2" y="42.74" width="265.2" height="10.74" fill="url(#r1)"/>
<rect x="323.2" y="52.89" width="265.2" height="10.74" fill="url(#r2)"/>
<rect x="323.2" y="63.03" width="265.2" height="10.74" fill="url(#r3)"/>
<rect x="323.2" y="73.17" width="265.2" height="10.74" fill="url(#r4)"/>
<rect x="323.2" y="83.31" width="265.2" height="10.74" fill="url(#r5)"/>
<rect x="323.2" y="93.46" width="265.2" height="10.74" fill="url(#r6)"/>
<rect x="323.2" y="103.60" width="265.2" height="10.74" fill="url(#r7)"/>
<rect x="323.2" y="113.74" width="265.2" height="10.74" fill="url(#r8)"/>
<rect x="323.2" y="123.89" width="265.2" height="10.74" fill="url(#r9)"/>
<rect x="323.2" y="134.03" width="265.2" height="10.74" fill="url(#r10)"/>
<rect x="323.2" y="144.17" width="265.2" height="10.74" fill="url(#r11)"/>
<rect x="323.2" y="154.31" width="265.2" height="10.74" fill="url(#r12)"/>
<rect x="323.2" y="164.46" width="265.2" height="10.74" fill="url(#r13)"/>
<rect x="323.2" y="174.60" width="265.2" height="10.74" fill="url(#r14)"/>
<rect x="323.2" y="184.74" width="265.2" height="10.74" fill="url(#r15)"/>
<rect x="323.2" y="194.89" width="265.2" height="10.74" fill="url(#r16)"/>
<rect x="323.2" y="205.03" width="265.2" height="10.74" fill="url(#r17)"/>
<rect x="323.2" y="215.17" width="265.2" height="10.74" fill="url(#r18)"/>
<rect x="323.2" y="225.31" width="265.2" height="10.74" fill="url(#r19)"/>
<rect x="323.2" y="235.46" width="265.2" height="10.14" fill="url(#r20)"/>
<g filter="url(#nf)"><rect x="46.60" y="33.60" width="264.10" height="211.90" fill="none" stroke="#1a1a1a" stroke-width="1"/>
<text x="46.60" y="260.70" font-size="11.80" text-anchor="middle" font-weight="normal" fill="#000" >0</text>
<text x="94.65" y="260.70" font-size="11.80" text-anchor="middle" font-weight="normal" fill="#000" >10</text>
<text x="142.70" y="260.70" font-size="11.80" text-anchor="middle" font-weight="normal" fill="#000" >20</text>
<text x="190.75" y="260.70" font-size="11.80" text-anchor="middle" font-weight="normal" fill="#000" >30</text>
<text x="238.80" y="260.70" font-size="11.80" text-anchor="middle" font-weight="normal" fill="#000" >40</text>
<text x="286.85" y="260.70" font-size="11.80" text-anchor="middle" font-weight="normal" fill="#000" >50</text>
<text x="42.20" y="249.80" font-size="11.80" text-anchor="end" font-weight="normal" fill="#000" >9.0</text>
<text x="42.20" y="219.35" font-size="11.80" text-anchor="end" font-weight="normal" fill="#000" >9.5</text>
<text x="42.20" y="189.10" font-size="11.80" text-anchor="end" font-weight="normal" fill="#000" >10.0</text>
<text x="42.20" y="158.85" font-size="11.80" text-anchor="end" font-weight="normal" fill="#000" >10.5</text>
<text x="42.20" y="128.60" font-size="11.80" text-anchor="end" font-weight="normal" fill="#000" >11.0</text>
<text x="42.20" y="98.35" font-size="11.80" text-anchor="end" font-weight="normal" fill="#000" >11.5</text>
<text x="42.20" y="68.10" font-size="11.80" text-anchor="end" font-weight="normal" fill="#000" >12.0</text>
<text x="42.20" y="42.15" font-size="11.80" text-anchor="end" font-weight="normal" fill="#000" >12.5</text>
<path d="M70.62 245.50v-2.6M70.62 33.60v2.6M94.65 245.50v-4.4M94.65 33.60v4.4M118.67 245.50v-2.6M118.67 33.60v2.6M142.70 245.50v-4.4M142.70 33.60v4.4M166.72 245.50v-2.6M166.72 33.60v2.6M190.75 245.50v-4.4M190.75 33.60v4.4M214.77 245.50v-2.6M214.77 33.60v2.6M238.80 245.50v-4.4M238.80 33.60v4.4M262.82 245.50v-2.6M262.82 33.60v2.6M286.85 245.50v-4.4M286.85 33.60v4.4M310.88 245.50v-2.6M310.88 33.60v2.6M46.60 230.38h2.6M310.70 230.38h-2.6M46.60 215.25h4.4M310.70 215.25h-4.4M46.60 200.12h2.6M310.70 200.12h-2.6M46.60 185.00h4.4M310.70 185.00h-4.4M46.60 169.88h2.6M310.70 169.88h-2.6M46.60 154.75h4.4M310.70 154.75h-4.4M46.60 139.62h2.6M310.70 139.62h-2.6M46.60 124.50h4.4M310.70 124.50h-4.4M46.60 109.38h2.6M310.70 109.38h-2.6M46.60 94.25h4.4M310.70 94.25h-4.4M46.60 79.12h2.6M310.70 79.12h-2.6M46.60 64.00h4.4M310.70 64.00h-4.4M46.60 48.88h2.6M310.70 48.88h-2.6" stroke="#1a1a1a" stroke-width="0.9" fill="none"/>
<text x="179.20" y="281.70" font-size="14.50" text-anchor="middle" font-weight="normal" fill="#000" >Pressure (GPa)</text>
<text transform="translate(13.5,139.9) rotate(-90)" font-size="14.4" text-anchor="middle">V/Z (Å<tspan dy="-4.8" font-size="9.5">3</tspan><tspan dy="4.8">)</tspan></text>
<text transform="translate(44.3,28.2) scale(0.8,1)" font-size="16" font-weight="bold">(a)</text>
<path d="M150.75 161.75v10.00" stroke="#f9a9a9" stroke-width="0.7" stroke-opacity="0.75"/>
<circle cx="150.75" cy="166.75" r="2.70" fill="#f9a9a9"/>
<path d="M166.25 163.25v10.00" stroke="#f9a9a9" stroke-width="0.7" stroke-opacity="0.75"/>
<circle cx="166.25" cy="168.25" r="2.70" fill="#f9a9a9"/>
<path d="M179.50 164.50v10.00" stroke="#f9a9a9" stroke-width="0.7" stroke-opacity="0.75"/>
<circle cx="179.50" cy="169.50" r="2.70" fill="#f9a9a9"/>
<path d="M46.60 84.00l2.30 2.30l-2.30 2.30l-2.30 -2.30z" fill="#fff" stroke="#000" stroke-width="0.75"/>
<path d="M50.00 85.70l2.30 2.30l-2.30 2.30l-2.30 -2.30z" fill="#fff" stroke="#000" stroke-width="0.75"/>
<path d="M63.00 95.20l2.30 2.30l-2.30 2.30l-2.30 -2.30z" fill="#fff" stroke="#000" stroke-width="0.75"/>
<path d="M70.50 100.70l2.30 2.30l-2.30 2.30l-2.30 -2.30z" fill="#fff" stroke="#000" stroke-width="0.75"/>
<path d="M75.75 102.70l2.30 2.30l-2.30 2.30l-2.30 -2.30z" fill="#fff" stroke="#000" stroke-width="0.75"/>
<path d="M77.50 106.45l2.30 2.30l-2.30 2.30l-2.30 -2.30z" fill="#fff" stroke="#000" stroke-width="0.75"/>
<path d="M78.75 109.45l2.30 2.30l-2.30 2.30l-2.30 -2.30z" fill="#fff" stroke="#000" stroke-width="0.75"/>
<path d="M88.25 116.45l2.30 2.30l-2.30 2.30l-2.30 -2.30z" fill="#fff" stroke="#000" stroke-width="0.75"/>
<path d="M97.50 121.70l2.30 2.30l-2.30 2.30l-2.30 -2.30z" fill="#fff" stroke="#000" stroke-width="0.75"/>
<path d="M98.75 125.70l2.30 2.30l-2.30 2.30l-2.30 -2.30z" fill="#fff" stroke="#000" stroke-width="0.75"/>
<path d="M108.70 129.50l2.30 2.30l-2.30 2.30l-2.30 -2.30z" fill="#fff" stroke="#000" stroke-width="0.75"/>
<path d="M125.00 139.70l2.30 2.30l-2.30 2.30l-2.30 -2.30z" fill="#fff" stroke="#000" stroke-width="0.75"/>
<circle cx="114.40" cy="136.60" r="1.75" fill="#fff" stroke="#000" stroke-width="0.75"/>
<circle cx="115.20" cy="139.00" r="1.75" fill="#fff" stroke="#000" stroke-width="0.75"/>
<path d="M117.60 137.10l2.30 2.30l-2.30 2.30l-2.30 -2.30z" fill="#fff" stroke="#000" stroke-width="0.75"/>
<path d="M127.40 140.90l2.30 2.30l-2.30 2.30l-2.30 -2.30z" fill="#fff" stroke="#000" stroke-width="0.75"/>
<circle cx="127.00" cy="148.10" r="1.75" fill="#fff" stroke="#000" stroke-width="0.75"/>
<path d="M137.10 148.20l2.30 2.30l-2.30 2.30l-2.30 -2.30z" fill="#fff" stroke="#000" stroke-width="0.75"/>
<circle cx="135.30" cy="153.60" r="1.75" fill="#fff" stroke="#000" stroke-width="0.75"/>
<path d="M143.80 154.30l2.30 2.30l-2.30 2.30l-2.30 -2.30z" fill="#fff" stroke="#000" stroke-width="0.75"/>
<path d="M148.00 155.30l2.30 2.30l-2.30 2.30l-2.30 -2.30z" fill="#fff" stroke="#000" stroke-width="0.75"/>
<circle cx="153.00" cy="163.75" r="1.75" fill="#fff" stroke="#000" stroke-width="0.75"/>
<circle cx="165.50" cy="166.75" r="1.75" fill="#fff" stroke="#000" stroke-width="0.75"/>
<circle cx="175.00" cy="168.25" r="1.75" fill="#fff" stroke="#000" stroke-width="0.75"/>
<circle cx="175.75" cy="171.50" r="1.75" fill="#fff" stroke="#000" stroke-width="0.75"/>
<circle cx="183.25" cy="172.20" r="1.75" fill="#fff" stroke="#000" stroke-width="0.75"/>
<circle cx="182.00" cy="175.20" r="1.75" fill="#fff" stroke="#000" stroke-width="0.75"/>
<circle cx="183.00" cy="177.40" r="1.75" fill="#fff" stroke="#000" stroke-width="0.75"/>
<circle cx="199.50" cy="183.25" r="1.75" fill="#fff" stroke="#000" stroke-width="0.75"/>
<circle cx="218.75" cy="187.00" r="1.75" fill="#fff" stroke="#000" stroke-width="0.75"/>
<circle cx="217.50" cy="189.50" r="1.75" fill="#fff" stroke="#000" stroke-width="0.75"/>
<circle cx="223.00" cy="190.00" r="1.75" fill="#fff" stroke="#000" stroke-width="0.75"/>
<circle cx="218.75" cy="191.75" r="1.75" fill="#fff" stroke="#000" stroke-width="0.75"/>
<circle cx="223.00" cy="194.25" r="1.75" fill="#fff" stroke="#000" stroke-width="0.75"/>
<circle cx="230.75" cy="197.00" r="1.75" fill="#fff" stroke="#000" stroke-width="0.75"/>
<circle cx="244.50" cy="200.75" r="1.75" fill="#fff" stroke="#000" stroke-width="0.75"/>
<circle cx="258.25" cy="201.75" r="1.75" fill="#fff" stroke="#000" stroke-width="0.75"/>
<circle cx="257.50" cy="204.25" r="1.75" fill="#fff" stroke="#000" stroke-width="0.75"/>
<circle cx="273.00" cy="208.25" r="1.75" fill="#fff" stroke="#000" stroke-width="0.75"/>
<circle cx="276.25" cy="207.00" r="1.75" fill="#fff" stroke="#000" stroke-width="0.75"/>
<circle cx="278.00" cy="210.50" r="1.75" fill="#fff" stroke="#000" stroke-width="0.75"/>
<circle cx="275.50" cy="212.50" r="1.75" fill="#fff" stroke="#000" stroke-width="0.75"/>
<circle cx="289.25" cy="213.75" r="1.75" fill="#fff" stroke="#000" stroke-width="0.75"/>
<circle cx="290.50" cy="215.30" r="1.75" fill="#fff" stroke="#000" stroke-width="0.75"/>
<circle cx="290.00" cy="217.30" r="1.75" fill="#fff" stroke="#000" stroke-width="0.75"/>
<circle cx="308.25" cy="216.25" r="1.75" fill="#fff" stroke="#000" stroke-width="0.75"/>
<circle cx="307.00" cy="218.75" r="1.75" fill="#fff" stroke="#000" stroke-width="0.75"/>
<circle cx="310.00" cy="221.25" r="1.75" fill="#fff" stroke="#000" stroke-width="0.75"/>
<circle cx="307.00" cy="222.70" r="1.75" fill="#fff" stroke="#000" stroke-width="0.75"/>
<path d="M58.75 93.90l3.10 3.10l-3.10 3.10l-3.10 -3.10z" fill="#4cb5f6"/>
<path d="M72.00 106.40l3.10 3.10l-3.10 3.10l-3.10 -3.10z" fill="#4cb5f6"/>
<path d="M228.00 180.25v12.00" stroke="#f4696b" stroke-width="0.7" stroke-opacity="0.75"/>
<path d="M74.50 105.65l3.10 3.10l-3.10 3.10l-3.10 -3.10z" fill="#f4696b"/>
<path d="M82.00 111.40l3.10 3.10l-3.10 3.10l-3.10 -3.10z" fill="#f4696b"/>
<path d="M93.75 120.65l3.10 3.10l-3.10 3.10l-3.10 -3.10z" fill="#f4696b"/>
<path d="M108.30 130.70l3.10 3.10l-3.10 3.10l-3.10 -3.10z" fill="#f4696b"/>
<path d="M123.10 137.70l3.10 3.10l-3.10 3.10l-3.10 -3.10z" fill="#f4696b"/>
<path d="M136.10 141.40l3.10 3.10l-3.10 3.10l-3.10 -3.10z" fill="#f4696b"/>
<path d="M149.80 147.50l3.10 3.10l-3.10 3.10l-3.10 -3.10z" fill="#f4696b"/>
<path d="M166.25 153.15l3.10 3.10l-3.10 3.10l-3.10 -3.10z" fill="#f4696b"/>
<path d="M179.50 161.15l3.10 3.10l-3.10 3.10l-3.10 -3.10z" fill="#f4696b"/>
<path d="M194.25 170.15l3.10 3.10l-3.10 3.10l-3.10 -3.10z" fill="#f4696b"/>
<path d="M209.50 176.40l3.10 3.10l-3.10 3.10l-3.10 -3.10z" fill="#f4696b"/>
<path d="M228.00 183.15l3.10 3.10l-3.10 3.10l-3.10 -3.10z" fill="#f4696b"/>
<path d="M215.75 176.90l3.10 3.10l-3.10 3.10l-3.10 -3.10z" fill="#c00000"/>
<path d="M221.25 179.90l3.10 3.10l-3.10 3.10l-3.10 -3.10z" fill="#c00000"/>
<rect x="147.75" y="42.00" width="5.00" height="5.00" fill="#f4696b"/>
<rect x="163.75" y="48.75" width="5.00" height="5.00" fill="#f4696b"/>
<rect x="177.00" y="55.75" width="5.00" height="5.00" fill="#f4696b"/>
<rect x="191.50" y="64.25" width="5.00" height="5.00" fill="#f4696b"/>
<rect x="206.75" y="66.90" width="5.00" height="5.00" fill="#f4696b"/>
<rect x="225.00" y="77.50" width="5.00" height="5.00" fill="#f4696b"/>
<rect x="206.25" y="70.50" width="5.00" height="5.00" fill="#c00000"/>
<rect x="212.80" y="72.00" width="5.00" height="5.00" fill="#c00000"/>
<rect x="218.75" y="75.75" width="5.00" height="5.00" fill="#c00000"/>
<rect x="225.80" y="81.35" width="4.80" height="4.80" fill="#4cb5f6"/>
<rect x="243.35" y="88.85" width="4.80" height="4.80" fill="#4cb5f6"/>
<rect x="264.10" y="98.10" width="4.80" height="4.80" fill="#4cb5f6"/>
<rect x="285.60" y="106.85" width="4.80" height="4.80" fill="#4cb5f6"/>
<path d="M166.25 69.30v12.40" stroke="#f4696b" stroke-width="0.7" stroke-opacity="0.75"/>
<path d="M163.15 72.90h6.20l-3.10 5.80z" fill="#f4696b"/>
<path d="M179.50 79.10v12.40" stroke="#f4696b" stroke-width="0.7" stroke-opacity="0.75"/>
<path d="M176.40 82.70h6.20l-3.10 5.80z" fill="#f4696b"/>
<path d="M150.25 100.60v12.40" stroke="#f4696b" stroke-width="0.7" stroke-opacity="0.75"/>
<path d="M147.15 104.20h6.20l-3.10 5.80z" fill="#f4696b"/>
<text transform="translate(56.30,180.50) scale(0.900,1)" font-size="6.72" text-anchor="start" font-weight="bold" fill="#000" stroke="#000" stroke-width="0.18">Cantor alloy - Tracy et al. (RT)</text>
<text transform="translate(56.30,188.40) scale(0.900,1)" font-size="6.72" text-anchor="start" font-weight="bold" fill="#000" stroke="#000" stroke-width="0.18"><tspan font-style="italic">fcc</tspan> -</text>
<path d="M77.00 184.00l2.30 2.30l-2.30 2.30l-2.30 -2.30z" fill="#fff" stroke="#000" stroke-width="0.90"/>
<text transform="translate(84.30,188.40) scale(0.900,1)" font-size="6.72" text-anchor="start" font-weight="bold" fill="#000" stroke="#000" stroke-width="0.18">; <tspan font-style="italic">hcp</tspan> -</text>
<circle cx="110.50" cy="186.30" r="1.80" fill="#fff" stroke="#000" stroke-width="0.90"/>
<text transform="translate(117.80,188.40) scale(0.900,1)" font-size="6.72" text-anchor="start" font-weight="bold" fill="#000" stroke="#000" stroke-width="0.18">;</text>
<text transform="translate(56.30,203.30) scale(0.900,1)" font-size="6.72" text-anchor="start" font-weight="bold" fill="#000" stroke="#000" stroke-width="0.18">Cantor alloy - current study</text>
<text transform="translate(56.30,211.40) scale(0.900,1)" font-size="6.72" text-anchor="start" font-weight="bold" fill="#000" stroke="#000" stroke-width="0.18"><tspan font-style="italic">fcc</tspan> -</text>
<path d="M77.00 206.30l3.00 3.00l-3.00 3.00l-3.00 -3.00z" fill="#4cb5f6"/>
<path d="M90.50 206.30l3.00 3.00l-3.00 3.00l-3.00 -3.00z" fill="#f4696b"/>
<path d="M104.25 206.30l3.00 3.00l-3.00 3.00l-3.00 -3.00z" fill="#c00000"/>
<text transform="translate(111.30,211.40) scale(0.900,1)" font-size="6.72" text-anchor="start" font-weight="bold" fill="#000" stroke="#000" stroke-width="0.18">; <tspan font-style="italic">hcp</tspan> -</text>
<circle cx="138.00" cy="209.30" r="2.60" fill="#f9a9a9"/>
<text transform="translate(144.80,211.40) scale(0.900,1)" font-size="6.72" text-anchor="start" font-weight="bold" fill="#000" stroke="#000" stroke-width="0.18">;</text>
<text transform="translate(56.30,225.60) scale(0.900,1)" font-size="6.72" text-anchor="start" font-weight="bold" fill="#000" stroke="#000" stroke-width="0.18">Cantor hydride:</text>
<text transform="translate(56.30,233.40) scale(0.900,1)" font-size="6.72" text-anchor="start" font-weight="bold" fill="#000" stroke="#000" stroke-width="0.18"><tspan font-style="italic">fcc</tspan> -</text>
<rect x="74.70" y="229.00" width="4.60" height="4.60" fill="#4cb5f6"/>
<rect x="88.20" y="229.00" width="4.60" height="4.60" fill="#f4696b"/>
<rect x="101.95" y="229.00" width="4.60" height="4.60" fill="#c00000"/>
<text transform="translate(111.30,233.40) scale(0.900,1)" font-size="6.72" text-anchor="start" font-weight="bold" fill="#000" stroke="#000" stroke-width="0.18">; <tspan font-style="italic">hcp</tspan> -</text>
<path d="M135.10 229.00h5.80l-2.90 5.40z" fill="#f4696b"/>
<text transform="translate(144.80,233.40) scale(0.900,1)" font-size="6.72" text-anchor="start" font-weight="bold" fill="#000" stroke="#000" stroke-width="0.18">;</text>
<text transform="translate(163.40,208.10) scale(0.900,1)" font-size="6.72" text-anchor="start" font-weight="bold" fill="#000" stroke="#000" stroke-width="0.18">Temperatures:</text>
<path d="M169.90 210.70l3.10 3.10l-3.10 3.10l-3.10 -3.10z" fill="#4cb5f6"/>
<text transform="translate(176.90,216.00) scale(0.900,1)" font-size="6.72" text-anchor="start" font-weight="bold" fill="#000" stroke="#000" stroke-width="0.18">RT</text>
<path d="M169.90 218.50l3.10 3.10l-3.10 3.10l-3.10 -3.10z" fill="#f4696b"/>
<text transform="translate(176.90,223.70) scale(0.900,1)" font-size="6.72" text-anchor="start" font-weight="bold" fill="#000" stroke="#000" stroke-width="0.18">377-379 K</text>
<path d="M169.90 226.30l3.10 3.10l-3.10 3.10l-3.10 -3.10z" fill="#c00000"/>
<text transform="translate(176.90,231.40) scale(0.900,1)" font-size="6.72" text-anchor="start" font-weight="bold" fill="#000" stroke="#000" stroke-width="0.18">409-424 K</text>
<text transform="translate(323.2,27.4) scale(0.8,1)" font-size="16" font-weight="bold">(b)</text>
<text x="342.40" y="261.90" font-size="11.80" text-anchor="middle" font-weight="normal" fill="#000" >5</text>
<text x="361.45" y="261.90" font-size="11.80" text-anchor="middle" font-weight="normal" fill="#000" >6</text>
<text x="380.50" y="261.90" font-size="11.80" text-anchor="middle" font-weight="normal" fill="#000" >7</text>
<text x="399.55" y="261.90" font-size="11.80" text-anchor="middle" font-weight="normal" fill="#000" >8</text>
<text x="418.60" y="261.90" font-size="11.80" text-anchor="middle" font-weight="normal" fill="#000" >9</text>
<text x="437.65" y="261.90" font-size="11.80" text-anchor="middle" font-weight="normal" fill="#000" >10</text>
<text x="456.70" y="261.90" font-size="11.80" text-anchor="middle" font-weight="normal" fill="#000" >11</text>
<text x="475.75" y="261.90" font-size="11.80" text-anchor="middle" font-weight="normal" fill="#000" >12</text>
<text x="494.80" y="261.90" font-size="11.80" text-anchor="middle" font-weight="normal" fill="#000" >13</text>
<text x="513.85" y="261.90" font-size="11.80" text-anchor="middle" font-weight="normal" fill="#000" >14</text>
<text x="532.90" y="261.90" font-size="11.80" text-anchor="middle" font-weight="normal" fill="#000" >15</text>
<text x="551.95" y="261.90" font-size="11.80" text-anchor="middle" font-weight="normal" fill="#000" >16</text>
<text x="571.00" y="261.90" font-size="11.80" text-anchor="middle" font-weight="normal" fill="#000" >17</text>
<path d="M332.88 245.60v2.6M342.40 245.60v4.2M351.92 245.60v2.6M361.45 245.60v4.2M370.97 245.60v2.6M380.50 245.60v4.2M390.02 245.60v2.6M399.55 245.60v4.2M409.07 245.60v2.6M418.60 245.60v4.2M428.12 245.60v2.6M437.65 245.60v4.2M447.17 245.60v2.6M456.70 245.60v4.2M466.22 245.60v2.6M475.75 245.60v4.2M485.27 245.60v2.6M494.80 245.60v4.2M504.32 245.60v2.6M513.85 245.60v4.2M523.38 245.60v2.6M532.90 245.60v4.2M542.42 245.60v2.6M551.95 245.60v4.2M561.48 245.60v2.6M571.00 245.60v4.2M580.52 245.60v2.6" stroke="#2a1a30" stroke-width="0.9" fill="none"/>
<text x="456.20" y="285.70" font-size="14.50" text-anchor="middle" font-weight="normal" fill="#000" >2θ (Degrees)</text>
<text transform="translate(374.90,14.60) scale(0.840,1)" font-size="8.10" text-anchor="middle" font-weight="bold" fill="#000" stroke="#000" stroke-width="0.12"><tspan font-style="italic">hcp</tspan></text>
<text transform="translate(375.30,25.40) scale(0.840,1)" font-size="8.10" text-anchor="middle" font-weight="bold" fill="#000" stroke="#000" stroke-width="0.12">(100)</text>
<text transform="translate(401.30,5.60) scale(0.840,1)" font-size="8.10" text-anchor="middle" font-weight="bold" fill="#000" stroke="#000" stroke-width="0.12"><tspan font-style="italic">fcc</tspan></text>
<text transform="translate(401.70,15.80) scale(0.840,1)" font-size="8.10" text-anchor="middle" font-weight="bold" fill="#000" stroke="#000" stroke-width="0.12">(111)</text>
<text transform="translate(425.20,5.60) scale(0.840,1)" font-size="8.10" text-anchor="middle" font-weight="bold" fill="#000" stroke="#000" stroke-width="0.12"><tspan font-style="italic">fcc</tspan></text>
<text transform="translate(425.60,15.80) scale(0.840,1)" font-size="8.10" text-anchor="middle" font-weight="bold" fill="#000" stroke="#000" stroke-width="0.12">(200)</text>
<text transform="translate(498.40,5.60) scale(0.840,1)" font-size="8.10" text-anchor="middle" font-weight="bold" fill="#000" stroke="#000" stroke-width="0.12"><tspan font-style="italic">fcc</tspan></text>
<text transform="translate(498.80,15.80) scale(0.840,1)" font-size="8.10" text-anchor="middle" font-weight="bold" fill="#000" stroke="#000" stroke-width="0.12">(202)</text>
<text transform="translate(544.70,5.60) scale(0.840,1)" font-size="8.10" text-anchor="middle" font-weight="bold" fill="#000" stroke="#000" stroke-width="0.12"><tspan font-style="italic">fcc</tspan></text>
<text transform="translate(545.10,15.80) scale(0.840,1)" font-size="8.10" text-anchor="middle" font-weight="bold" fill="#000" stroke="#000" stroke-width="0.12">(113)</text>
<path d="M401.80 18.20L401.80 27.30" stroke="#000" stroke-width="1.10" fill="none"/>
<path d="M401.80 31.60L399.90 26.80L403.70 26.80z" fill="#000"/>
<path d="M425.60 18.20L425.60 27.30" stroke="#000" stroke-width="1.10" fill="none"/>
<path d="M425.60 31.60L423.70 26.80L427.50 26.80z" fill="#000"/>
<path d="M499.80 18.20L499.80 27.30" stroke="#000" stroke-width="1.10" fill="none"/>
<path d="M499.80 31.60L497.90 26.80L501.70 26.80z" fill="#000"/>
<path d="M545.20 18.20L545.20 27.30" stroke="#000" stroke-width="1.10" fill="none"/>
<path d="M545.20 31.60L543.30 26.80L547.10 26.80z" fill="#000"/>
<path d="M385 20.4 L391.6 22.2 Q392.6 22.5 392.7 23.6 L392.8 27.5" stroke="#000" stroke-width="1.05" fill="none"/>
<path d="M392.80 25.50L392.83 27.40" stroke="#000" stroke-width="1.05" fill="none"/>
<path d="M392.90 31.50L390.92 26.93L394.72 26.87z" fill="#000"/>
<text transform="translate(326.80,40.60) scale(0.840,1)" font-size="7.86" text-anchor="start" font-weight="bold" fill="#fff" stroke="#fff" stroke-width="0.32">Cantor alloy hydride</text>
<text transform="translate(326.80,243.70) scale(0.840,1)" font-size="7.98" text-anchor="start" font-weight="bold" fill="#fff" stroke="#fff" stroke-width="0.32">Cantor alloy</text>
<text transform="translate(371.40,243.70) scale(0.840,1)" font-size="7.98" text-anchor="start" font-weight="bold" fill="#fff" stroke="#fff" stroke-width="0.32"><tspan font-style="italic">fcc</tspan> (111)</text>
<text transform="translate(430.30,243.70) scale(0.840,1)" font-size="7.98" text-anchor="start" font-weight="bold" fill="#fff" stroke="#fff" stroke-width="0.32"><tspan font-style="italic">fcc</tspan> (200)</text>
<text transform="translate(469.60,243.70) scale(0.840,1)" font-size="7.98" text-anchor="start" font-weight="bold" fill="#fff" stroke="#fff" stroke-width="0.32"><tspan font-style="italic">fcc</tspan> (202)</text>
<text transform="translate(512.20,243.70) scale(0.840,1)" font-size="7.98" text-anchor="start" font-weight="bold" fill="#fff" stroke="#fff" stroke-width="0.32"><tspan font-style="italic">fcc</tspan> (113)</text>
<text transform="translate(561.20,243.70) scale(0.840,1)" font-size="7.98" text-anchor="start" font-weight="bold" fill="#fff" stroke="#fff" stroke-width="0.32"><tspan font-style="italic">fcc</tspan> (222)</text>
<text transform="translate(588.20,41.20) scale(0.840,1)" font-size="8.21" text-anchor="end" font-weight="bold" fill="#fff" stroke="#fff" stroke-width="0.15">50.2 GPa</text>
<text transform="translate(588.20,71.20) scale(0.840,1)" font-size="8.21" text-anchor="end" font-weight="bold" fill="#fff" stroke="#fff" stroke-width="0.15">37.7 GPa</text>
<text transform="translate(588.20,81.70) scale(0.840,1)" font-size="8.21" text-anchor="end" font-weight="bold" fill="#fff" stroke="#fff" stroke-width="0.15">35.2 GPa</text>
<text transform="translate(588.20,101.70) scale(0.840,1)" font-size="8.21" text-anchor="end" font-weight="bold" fill="#fff" stroke="#fff" stroke-width="0.15">37.6 GPa</text>
<text transform="translate(588.20,163.20) scale(0.840,1)" font-size="8.21" text-anchor="end" font-weight="bold" fill="#fff" stroke="#fff" stroke-width="0.15">18.6 GPa</text>
<text transform="translate(588.20,183.40) scale(0.840,1)" font-size="8.21" text-anchor="end" font-weight="bold" fill="#fff" stroke="#fff" stroke-width="0.15">15.9 GPa</text>
<text transform="translate(588.20,214.00) scale(0.840,1)" font-size="8.21" text-anchor="end" font-weight="bold" fill="#fff" stroke="#fff" stroke-width="0.15">5.8 GPa</text>
<text transform="translate(588.20,223.40) scale(0.840,1)" font-size="8.21" text-anchor="end" font-weight="bold" fill="#fff" stroke="#fff" stroke-width="0.15">5.2 GPa</text>
<text transform="translate(329.60,84.80) scale(0.840,1)" font-size="7.26" text-anchor="start" font-weight="bold" fill="#fff" stroke="#fff" stroke-width="0.32"><tspan font-style="italic">fcc</tspan>- and <tspan font-style="italic">hcp</tspan>-HEH</text>
<text transform="translate(329.60,93.50) scale(0.840,1)" font-size="7.26" text-anchor="start" font-weight="bold" fill="#fff" stroke="#fff" stroke-width="0.32">with traces</text>
<text transform="translate(329.60,102.50) scale(0.840,1)" font-size="7.26" text-anchor="start" font-weight="bold" fill="#fff" stroke="#fff" stroke-width="0.32">of <tspan font-style="italic">hcp</tspan>- and <tspan font-style="italic">fcc</tspan>-HEA</text>
<path d="M373.30 76.50L383.56 71.48" stroke="#fff" stroke-width="1.20" fill="none"/>
<path d="M387.60 69.50L383.99 73.49L382.23 69.90z" fill="#fff"/>
<text transform="translate(438.00,90.80) scale(0.840,1)" font-size="7.14" text-anchor="start" font-weight="bold" fill="#fff" stroke="#fff" stroke-width="0.32">disappearance of</text>
<text transform="translate(438.00,99.50) scale(0.840,1)" font-size="7.14" text-anchor="start" font-weight="bold" fill="#fff" stroke="#fff" stroke-width="0.32"><tspan font-style="italic">fcc</tspan>-HEA</text>
<path d="M447.20 83.40L439.56 76.11" stroke="#fff" stroke-width="1.20" fill="none"/>
<path d="M436.30 73.00L441.30 75.00L438.54 77.90z" fill="#fff"/>
<text transform="translate(436.20,141.20) scale(0.840,1)" font-size="7.14" text-anchor="start" font-weight="bold" fill="#fff" stroke="#fff" stroke-width="0.32">transformation</text>
<text transform="translate(436.20,150.70) scale(0.840,1)" font-size="7.14" text-anchor="start" font-weight="bold" fill="#fff" stroke="#fff" stroke-width="0.32"><tspan font-style="italic">fcc</tspan>-HEA</text>
<text transform="translate(467.00,150.70) scale(0.840,1)" font-size="7.14" text-anchor="start" font-weight="bold" fill="#fff" stroke="#fff" stroke-width="0.32"><tspan font-style="italic">hcp</tspan>-HEA</text>
<path d="M459.4 148.6H464.6" stroke="#fff" stroke-width="0.8"/><path d="M466.4 148.6l-2.4 -1.5v3z" fill="#fff"/>
<path d="M447.40 131.10L427.40 111.27" stroke="#fff" stroke-width="1.20" fill="none"/>
<path d="M424.20 108.10L429.16 110.20L426.34 113.04z" fill="#fff"/>
<text transform="translate(343.70,159.50) scale(0.840,1)" font-size="7.98" text-anchor="start" font-weight="bold" fill="#fff" stroke="#fff" stroke-width="0.32">formation</text>
<text transform="translate(343.70,169.90) scale(0.840,1)" font-size="7.98" text-anchor="start" font-weight="bold" fill="#fff" stroke="#fff" stroke-width="0.32">of <tspan font-style="italic">hcp</tspan>-HEH</text>
<text transform="translate(351.70,191.10) scale(0.840,1)" font-size="7.98" text-anchor="start" font-weight="bold" fill="#fff" stroke="#fff" stroke-width="0.32">formation</text>
<text transform="translate(351.70,200.10) scale(0.840,1)" font-size="7.98" text-anchor="start" font-weight="bold" fill="#fff" stroke="#fff" stroke-width="0.32">of <tspan font-style="italic">hcp</tspan> HEA</text>
<text transform="translate(351.70,210.10) scale(0.840,1)" font-size="7.98" text-anchor="start" font-weight="bold" fill="#fff" stroke="#fff" stroke-width="0.32">and <tspan font-style="italic">fcc</tspan>-HEH</text>
<path d="M388.20 183.90L393.29 181.74" stroke="#fff" stroke-width="1.20" fill="none"/>
<path d="M396.70 180.30L393.57 183.69L392.09 180.19z" fill="#fff"/>
<path d="M594.7 33.00H605.2M594.7 73.10H605.2M594.7 95.10H605.2M594.7 216.20H605.2M594.7 245.80H605.2" stroke="#444" stroke-width="1.2" fill="none"/>
<path d="M599.90 73.00L599.90 38.80" stroke="#333" stroke-width="1.10" fill="none"/>
<path d="M599.90 35.00L601.80 39.30L598.00 39.30z" fill="#333"/>
<path d="M599.90 95.00L599.90 79.00" stroke="#333" stroke-width="1.10" fill="none"/>
<path d="M599.90 75.20L601.80 79.50L598.00 79.50z" fill="#333"/>
<path d="M599.90 216.00L599.90 101.00" stroke="#333" stroke-width="1.10" fill="none"/>
<path d="M599.90 97.20L601.80 101.50L598.00 101.50z" fill="#333"/>
<path d="M599.90 245.60L599.90 222.10" stroke="#333" stroke-width="1.10" fill="none"/>
<path d="M599.90 218.30L601.80 222.60L598.00 222.60z" fill="#333"/>
<text transform="translate(603.90,47.30) scale(0.840,1)" font-size="7.92" text-anchor="start" font-weight="bold" fill="#111" stroke="#111" stroke-width="0.18">compression</text>
<text transform="translate(603.90,56.20) scale(0.840,1)" font-size="7.92" text-anchor="start" font-weight="bold" fill="#111" stroke="#111" stroke-width="0.18">at RT</text>
<text transform="translate(603.90,65.60) scale(0.840,1)" font-size="7.92" text-anchor="start" font-weight="bold" fill="#111" stroke="#111" stroke-width="0.18">after cooling</text>
<text transform="translate(607.20,81.50) scale(0.840,1)" font-size="7.92" text-anchor="start" font-weight="bold" fill="#111" stroke="#111" stroke-width="0.18">heating</text>
<text transform="translate(607.20,91.70) scale(0.840,1)" font-size="7.92" text-anchor="start" font-weight="bold" fill="#111" stroke="#111" stroke-width="0.18">to 424 K</text>
<text transform="translate(607.20,154.80) scale(0.840,1)" font-size="7.92" text-anchor="start" font-weight="bold" fill="#111" stroke="#111" stroke-width="0.18">compression</text>
<text transform="translate(607.20,164.50) scale(0.840,1)" font-size="7.92" text-anchor="start" font-weight="bold" fill="#111" stroke="#111" stroke-width="0.18">at 376-378 K</text>
<text transform="translate(607.20,229.00) scale(0.840,1)" font-size="7.92" text-anchor="start" font-weight="bold" fill="#111" stroke="#111" stroke-width="0.18">compression</text>
<text transform="translate(607.20,238.70) scale(0.840,1)" font-size="7.92" text-anchor="start" font-weight="bold" fill="#111" stroke="#111" stroke-width="0.18">at RT</text>
<rect x="656.7" y="32.8" width="13.3" height="212.5" fill="url(#cb)" stroke="#1a0d1e" stroke-width="0.9"/>
<text x="678.00" y="37.00" font-size="11.80" text-anchor="middle" font-weight="normal" fill="#000" >1</text>
<text x="678.00" y="250.10" font-size="11.80" text-anchor="middle" font-weight="normal" fill="#000" >0</text>
<text transform="translate(681.8,142.6) rotate(-90)" font-size="14.5" text-anchor="middle">intensity (arb. units)</text></g>
</svg>
</body></html>
